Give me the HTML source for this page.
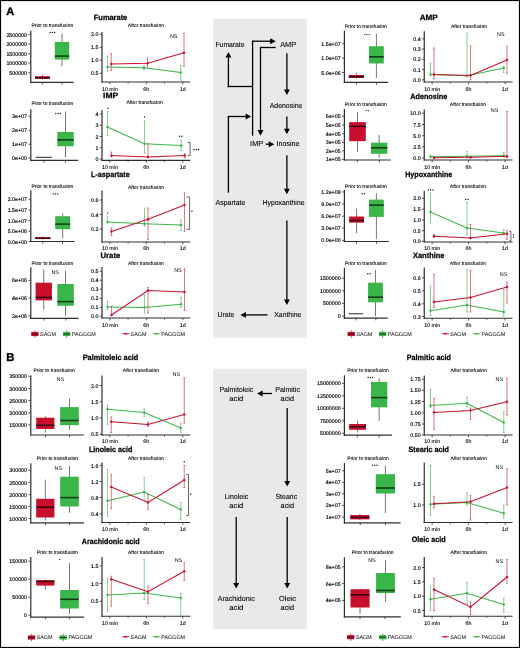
<!DOCTYPE html><html><head><meta charset="utf-8"><style>html,body{margin:0;padding:0;background:#fff;}svg{display:block;will-change:transform;text-rendering:geometricPrecision;}</style></head><body>
<svg width="520" height="648" viewBox="0 0 520 648" font-family="'Liberation Sans', sans-serif">
<rect x="0" y="0" width="520" height="648" fill="#fff"/>
<rect x="213.2" y="18.9" width="93.7" height="318.9" fill="#e9e9e9"/>
<rect x="213.2" y="368.8" width="93.7" height="260.2" fill="#e9e9e9"/>
<text x="10.2" y="14.75" font-size="11" text-anchor="middle" font-weight="bold" fill="#000" stroke="#000" stroke-width="0.35">A</text>
<text x="10.45" y="360.65" font-size="11.3" text-anchor="middle" font-weight="bold" fill="#000" stroke="#000" stroke-width="0.35">B</text>
<text x="52.35" y="26.75" font-size="5" text-anchor="middle" font-weight="normal" fill="#000" stroke="#000" stroke-width="0.08" textLength="41.65" lengthAdjust="spacingAndGlyphs">Prior to transfusion</text>
<line x1="30.8" y1="30.8" x2="30.8" y2="82.9" stroke="#2e2e2e" stroke-width="1.2"/>
<line x1="30.2" y1="82.3" x2="73.6" y2="82.3" stroke="#2e2e2e" stroke-width="1.2"/>
<line x1="28.4" y1="34.6" x2="30.8" y2="34.6" stroke="#2e2e2e" stroke-width="0.8"/>
<text x="27" y="36.6" font-size="5.3" text-anchor="end" font-weight="normal" fill="#000" stroke="#000" stroke-width="0.15">2500000</text>
<line x1="28.4" y1="44" x2="30.8" y2="44" stroke="#2e2e2e" stroke-width="0.8"/>
<text x="27" y="46" font-size="5.3" text-anchor="end" font-weight="normal" fill="#000" stroke="#000" stroke-width="0.15">2000000</text>
<line x1="28.4" y1="53.7" x2="30.8" y2="53.7" stroke="#2e2e2e" stroke-width="0.8"/>
<text x="27" y="55.7" font-size="5.3" text-anchor="end" font-weight="normal" fill="#000" stroke="#000" stroke-width="0.15">1500000</text>
<line x1="28.4" y1="63" x2="30.8" y2="63" stroke="#2e2e2e" stroke-width="0.8"/>
<text x="27" y="65" font-size="5.3" text-anchor="end" font-weight="normal" fill="#000" stroke="#000" stroke-width="0.15">1000000</text>
<line x1="28.4" y1="72.7" x2="30.8" y2="72.7" stroke="#2e2e2e" stroke-width="0.8"/>
<text x="27" y="74.71" font-size="5.3" text-anchor="end" font-weight="normal" fill="#000" stroke="#000" stroke-width="0.15">500000</text>
<line x1="42.3" y1="82.3" x2="42.3" y2="84.6" stroke="#2e2e2e" stroke-width="0.8"/>
<line x1="62" y1="82.3" x2="62" y2="84.6" stroke="#2e2e2e" stroke-width="0.8"/>
<line x1="42.5" y1="74.8" x2="42.5" y2="79.6" stroke="#4a4a4a" stroke-width="0.75"/>
<rect x="35" y="76.2" width="15" height="2.6" fill="#c8102e"/>
<line x1="35" y1="77.8" x2="50" y2="77.8" stroke="#3a0610" stroke-width="1.55"/>
<line x1="62" y1="33.7" x2="62" y2="66.3" stroke="#4a4a4a" stroke-width="0.75"/>
<rect x="54.8" y="41.9" width="14.4" height="17.7" fill="#3ab54a"/>
<line x1="54.8" y1="56.1" x2="69.2" y2="56.1" stroke="#103c15" stroke-width="1.55"/>
<circle cx="50.15" cy="32.4" r="0.68" fill="#111"/>
<circle cx="52.4" cy="32.4" r="0.68" fill="#111"/>
<circle cx="54.65" cy="32.4" r="0.68" fill="#111"/>
<text x="52.35" y="104.85" font-size="5" text-anchor="middle" font-weight="normal" fill="#000" stroke="#000" stroke-width="0.08" textLength="41.65" lengthAdjust="spacingAndGlyphs">Prior to transfusion</text>
<line x1="30.8" y1="109.2" x2="30.8" y2="161" stroke="#2e2e2e" stroke-width="1.2"/>
<line x1="30.2" y1="160.4" x2="78.3" y2="160.4" stroke="#2e2e2e" stroke-width="1.2"/>
<line x1="28.4" y1="116.2" x2="30.8" y2="116.2" stroke="#2e2e2e" stroke-width="0.8"/>
<text x="27" y="118.21" font-size="5.3" text-anchor="end" font-weight="normal" fill="#000" stroke="#000" stroke-width="0.15">3e+07</text>
<line x1="28.4" y1="130.4" x2="30.8" y2="130.4" stroke="#2e2e2e" stroke-width="0.8"/>
<text x="27" y="132.41" font-size="5.3" text-anchor="end" font-weight="normal" fill="#000" stroke="#000" stroke-width="0.15">2e+07</text>
<line x1="28.4" y1="144.2" x2="30.8" y2="144.2" stroke="#2e2e2e" stroke-width="0.8"/>
<text x="27" y="146.2" font-size="5.3" text-anchor="end" font-weight="normal" fill="#000" stroke="#000" stroke-width="0.15">1e+07</text>
<line x1="28.4" y1="158.1" x2="30.8" y2="158.1" stroke="#2e2e2e" stroke-width="0.8"/>
<text x="27" y="160.1" font-size="5.3" text-anchor="end" font-weight="normal" fill="#000" stroke="#000" stroke-width="0.15">0e+00</text>
<line x1="43.8" y1="160.4" x2="43.8" y2="162.7" stroke="#2e2e2e" stroke-width="0.8"/>
<line x1="65.4" y1="160.4" x2="65.4" y2="162.7" stroke="#2e2e2e" stroke-width="0.8"/>
<line x1="43.75" y1="157.3" x2="43.75" y2="157.3" stroke="#4a4a4a" stroke-width="0.75"/>
<line x1="35.6" y1="157.3" x2="51.9" y2="157.3" stroke="#2a2a2a" stroke-width="1"/>
<line x1="65.5" y1="111.5" x2="65.5" y2="157.3" stroke="#4a4a4a" stroke-width="0.75"/>
<rect x="57.3" y="131.9" width="16.4" height="14.4" fill="#3ab54a"/>
<line x1="57.3" y1="139.9" x2="73.7" y2="139.9" stroke="#103c15" stroke-width="1.55"/>
<circle cx="55.75" cy="113.5" r="0.68" fill="#111"/>
<circle cx="58" cy="113.5" r="0.68" fill="#111"/>
<circle cx="60.25" cy="113.5" r="0.68" fill="#111"/>
<text x="52.4" y="188.45" font-size="5" text-anchor="middle" font-weight="normal" fill="#000" stroke="#000" stroke-width="0.08" textLength="41.75" lengthAdjust="spacingAndGlyphs">Prior to transfusion</text>
<line x1="30.8" y1="190.2" x2="30.8" y2="242.1" stroke="#2e2e2e" stroke-width="1.2"/>
<line x1="30.2" y1="241.5" x2="74.6" y2="241.5" stroke="#2e2e2e" stroke-width="1.2"/>
<line x1="28.4" y1="199.2" x2="30.8" y2="199.2" stroke="#2e2e2e" stroke-width="0.8"/>
<text x="27" y="201.2" font-size="5.3" text-anchor="end" font-weight="normal" fill="#000" stroke="#000" stroke-width="0.15">2.0e+07</text>
<line x1="28.4" y1="210" x2="30.8" y2="210" stroke="#2e2e2e" stroke-width="0.8"/>
<text x="27" y="212" font-size="5.3" text-anchor="end" font-weight="normal" fill="#000" stroke="#000" stroke-width="0.15">1.5e+07</text>
<line x1="28.4" y1="220.6" x2="30.8" y2="220.6" stroke="#2e2e2e" stroke-width="0.8"/>
<text x="27" y="222.6" font-size="5.3" text-anchor="end" font-weight="normal" fill="#000" stroke="#000" stroke-width="0.15">1.0e+07</text>
<line x1="28.4" y1="231.2" x2="30.8" y2="231.2" stroke="#2e2e2e" stroke-width="0.8"/>
<text x="27" y="233.2" font-size="5.3" text-anchor="end" font-weight="normal" fill="#000" stroke="#000" stroke-width="0.15">5.0e+06</text>
<line x1="28.4" y1="241.5" x2="30.8" y2="241.5" stroke="#2e2e2e" stroke-width="0.8"/>
<text x="27" y="243.5" font-size="5.3" text-anchor="end" font-weight="normal" fill="#000" stroke="#000" stroke-width="0.15">0.0e+00</text>
<line x1="42.7" y1="241.5" x2="42.7" y2="243.8" stroke="#2e2e2e" stroke-width="0.8"/>
<line x1="62.5" y1="241.5" x2="62.5" y2="243.8" stroke="#2e2e2e" stroke-width="0.8"/>
<line x1="42.8" y1="236.2" x2="42.8" y2="239.4" stroke="#4a4a4a" stroke-width="0.75"/>
<rect x="35.2" y="237.1" width="15.2" height="1.7" fill="#c8102e"/>
<line x1="35.2" y1="238.3" x2="50.4" y2="238.3" stroke="#3a0610" stroke-width="1.55"/>
<line x1="62.7" y1="213.3" x2="62.7" y2="238.3" stroke="#4a4a4a" stroke-width="0.75"/>
<rect x="55.2" y="216.2" width="15" height="13" fill="#3ab54a"/>
<line x1="55.2" y1="224.1" x2="70.2" y2="224.1" stroke="#103c15" stroke-width="1.55"/>
<circle cx="53.25" cy="194" r="0.68" fill="#111"/>
<circle cx="55.5" cy="194" r="0.68" fill="#111"/>
<circle cx="57.75" cy="194" r="0.68" fill="#111"/>
<text x="52.4" y="265.25" font-size="5" text-anchor="middle" font-weight="normal" fill="#000" stroke="#000" stroke-width="0.08" textLength="41.75" lengthAdjust="spacingAndGlyphs">Prior to transfusion</text>
<line x1="30.8" y1="267.3" x2="30.8" y2="318.9" stroke="#2e2e2e" stroke-width="1.2"/>
<line x1="30.2" y1="318.3" x2="78.5" y2="318.3" stroke="#2e2e2e" stroke-width="1.2"/>
<line x1="28.4" y1="280.4" x2="30.8" y2="280.4" stroke="#2e2e2e" stroke-width="0.8"/>
<text x="27" y="282.4" font-size="5.3" text-anchor="end" font-weight="normal" fill="#000" stroke="#000" stroke-width="0.15">6e+06</text>
<line x1="28.4" y1="298.1" x2="30.8" y2="298.1" stroke="#2e2e2e" stroke-width="0.8"/>
<text x="27" y="300.11" font-size="5.3" text-anchor="end" font-weight="normal" fill="#000" stroke="#000" stroke-width="0.15">4e+06</text>
<line x1="28.4" y1="315.8" x2="30.8" y2="315.8" stroke="#2e2e2e" stroke-width="0.8"/>
<text x="27" y="317.81" font-size="5.3" text-anchor="end" font-weight="normal" fill="#000" stroke="#000" stroke-width="0.15">2e+06</text>
<line x1="43.8" y1="318.3" x2="43.8" y2="320.6" stroke="#2e2e2e" stroke-width="0.8"/>
<line x1="65.8" y1="318.3" x2="65.8" y2="320.6" stroke="#2e2e2e" stroke-width="0.8"/>
<line x1="43.75" y1="269.2" x2="43.75" y2="309.6" stroke="#4a4a4a" stroke-width="0.75"/>
<rect x="35.6" y="282.7" width="16.3" height="17.7" fill="#c8102e"/>
<line x1="35.6" y1="297.4" x2="51.9" y2="297.4" stroke="#3a0610" stroke-width="1.55"/>
<line x1="65.55" y1="270.8" x2="65.55" y2="315.8" stroke="#4a4a4a" stroke-width="0.75"/>
<rect x="57.3" y="284" width="16.5" height="21.8" fill="#3ab54a"/>
<line x1="57.3" y1="301.6" x2="73.8" y2="301.6" stroke="#103c15" stroke-width="1.55"/>
<text x="55.2" y="274.39" font-size="5.4" text-anchor="middle" font-weight="normal" fill="#000">NS</text>
<line x1="34.9" y1="330.2" x2="34.9" y2="337.8" stroke="#555" stroke-width="0.7"/>
<rect x="31.3" y="331.9" width="7.2" height="4.2" fill="#c8102e"/>
<line x1="31.3" y1="334" x2="38.5" y2="334" stroke="#4a0812" stroke-width="1.1"/>
<text x="48" y="335.86" font-size="5.3" text-anchor="middle" font-weight="normal" fill="#222" stroke="#222" stroke-width="0.06" textLength="15.77" lengthAdjust="spacingAndGlyphs">SAGM</text>
<line x1="66.7" y1="330.2" x2="66.7" y2="337.8" stroke="#555" stroke-width="0.7"/>
<rect x="63.1" y="331.9" width="7.2" height="4.2" fill="#3ab54a"/>
<line x1="63.1" y1="334" x2="70.3" y2="334" stroke="#164a1c" stroke-width="1.1"/>
<text x="83.9" y="335.86" font-size="5.3" text-anchor="middle" font-weight="normal" fill="#222" stroke="#222" stroke-width="0.06" textLength="23.97" lengthAdjust="spacingAndGlyphs">PAGGGM</text>
<text x="110.55" y="19.53" font-size="7.8" text-anchor="middle" font-weight="bold" fill="#000" stroke="#000" stroke-width="0.25" textLength="33.45" lengthAdjust="spacingAndGlyphs">Fumarate</text>
<text x="145.88" y="26.65" font-size="5" text-anchor="middle" font-weight="normal" fill="#000" stroke="#000" stroke-width="0.08" textLength="36.1" lengthAdjust="spacingAndGlyphs">After transfusion</text>
<line x1="102" y1="32" x2="102" y2="82.6" stroke="#2e2e2e" stroke-width="1.2"/>
<line x1="101.4" y1="82" x2="190.3" y2="82" stroke="#2e2e2e" stroke-width="1.2"/>
<line x1="99.6" y1="34.25" x2="102" y2="34.25" stroke="#2e2e2e" stroke-width="0.8"/>
<text x="98.4" y="36.25" font-size="5.3" text-anchor="end" font-weight="normal" fill="#000" stroke="#000" stroke-width="0.15">2.0</text>
<line x1="99.6" y1="47.25" x2="102" y2="47.25" stroke="#2e2e2e" stroke-width="0.8"/>
<text x="98.4" y="49.25" font-size="5.3" text-anchor="end" font-weight="normal" fill="#000" stroke="#000" stroke-width="0.15">1.5</text>
<line x1="99.6" y1="60.25" x2="102" y2="60.25" stroke="#2e2e2e" stroke-width="0.8"/>
<text x="98.4" y="62.25" font-size="5.3" text-anchor="end" font-weight="normal" fill="#000" stroke="#000" stroke-width="0.15">1.0</text>
<line x1="99.6" y1="73.25" x2="102" y2="73.25" stroke="#2e2e2e" stroke-width="0.8"/>
<text x="98.4" y="75.26" font-size="5.3" text-anchor="end" font-weight="normal" fill="#000" stroke="#000" stroke-width="0.15">0.5</text>
<line x1="109.9" y1="82" x2="109.9" y2="84.3" stroke="#2e2e2e" stroke-width="0.8"/>
<line x1="146.3" y1="82" x2="146.3" y2="84.3" stroke="#2e2e2e" stroke-width="0.8"/>
<line x1="182.8" y1="82" x2="182.8" y2="84.3" stroke="#2e2e2e" stroke-width="0.8"/>
<line x1="128.1" y1="82" x2="128.1" y2="83.7" stroke="#2e2e2e" stroke-width="0.7"/>
<line x1="164.5" y1="82" x2="164.5" y2="83.7" stroke="#2e2e2e" stroke-width="0.7"/>
<text x="109.9" y="90.81" font-size="5.3" text-anchor="middle" font-weight="normal" fill="#000" stroke="#000" stroke-width="0.1">10 min</text>
<text x="146.3" y="90.81" font-size="5.3" text-anchor="middle" font-weight="normal" fill="#000" stroke="#000" stroke-width="0.1">6h</text>
<text x="182.8" y="90.81" font-size="5.3" text-anchor="middle" font-weight="normal" fill="#000" stroke="#000" stroke-width="0.1">1d</text>
<line x1="107.5" y1="56.25" x2="107.5" y2="71.25" stroke="#62c26d" stroke-width="0.75"/>
<line x1="106.6" y1="56.25" x2="108.4" y2="56.25" stroke="#62c26d" stroke-width="0.75"/>
<line x1="106.6" y1="71.25" x2="108.4" y2="71.25" stroke="#62c26d" stroke-width="0.75"/>
<line x1="144" y1="66" x2="144" y2="69.5" stroke="#62c26d" stroke-width="0.75"/>
<line x1="143.1" y1="66" x2="144.9" y2="66" stroke="#62c26d" stroke-width="0.75"/>
<line x1="143.1" y1="69.5" x2="144.9" y2="69.5" stroke="#62c26d" stroke-width="0.75"/>
<line x1="180.75" y1="65.5" x2="180.75" y2="80" stroke="#62c26d" stroke-width="0.75"/>
<line x1="179.85" y1="65.5" x2="181.65" y2="65.5" stroke="#62c26d" stroke-width="0.75"/>
<line x1="179.85" y1="80" x2="181.65" y2="80" stroke="#62c26d" stroke-width="0.75"/>
<path d="M107.5 67 L144 67.75 L180.75 72.5" fill="none" stroke="#3ab54a" stroke-width="1.05"/>
<circle cx="107.5" cy="67" r="1.2" fill="#3ab54a"/>
<circle cx="144" cy="67.75" r="1.2" fill="#3ab54a"/>
<circle cx="180.75" cy="72.5" r="1.2" fill="#3ab54a"/>
<line x1="111.25" y1="53.75" x2="111.25" y2="70.5" stroke="#d4445f" stroke-width="0.75"/>
<line x1="110.35" y1="53.75" x2="112.15" y2="53.75" stroke="#d4445f" stroke-width="0.75"/>
<line x1="110.35" y1="70.5" x2="112.15" y2="70.5" stroke="#d4445f" stroke-width="0.75"/>
<line x1="147.5" y1="58" x2="147.5" y2="67" stroke="#d4445f" stroke-width="0.75"/>
<line x1="146.6" y1="58" x2="148.4" y2="58" stroke="#d4445f" stroke-width="0.75"/>
<line x1="146.6" y1="67" x2="148.4" y2="67" stroke="#d4445f" stroke-width="0.75"/>
<line x1="184" y1="33.25" x2="184" y2="66.25" stroke="#d4445f" stroke-width="0.75"/>
<line x1="183.1" y1="33.25" x2="184.9" y2="33.25" stroke="#d4445f" stroke-width="0.75"/>
<line x1="183.1" y1="66.25" x2="184.9" y2="66.25" stroke="#d4445f" stroke-width="0.75"/>
<path d="M111.25 64 L147.5 63.25 L184 52.75" fill="none" stroke="#c8102e" stroke-width="1.05"/>
<circle cx="111.25" cy="64" r="1.2" fill="#c8102e"/>
<circle cx="147.5" cy="63.25" r="1.2" fill="#c8102e"/>
<circle cx="184" cy="52.75" r="1.2" fill="#c8102e"/>
<text x="173.7" y="37.69" font-size="5.4" text-anchor="middle" font-weight="normal" fill="#000">NS</text>
<text x="110.6" y="98.23" font-size="7.8" text-anchor="middle" font-weight="bold" fill="#000" stroke="#000" stroke-width="0.25" textLength="15.15" lengthAdjust="spacingAndGlyphs">IMP</text>
<text x="144.62" y="104.15" font-size="5" text-anchor="middle" font-weight="normal" fill="#000" stroke="#000" stroke-width="0.08" textLength="36.1" lengthAdjust="spacingAndGlyphs">After transfusion</text>
<line x1="102" y1="110" x2="102" y2="160.9" stroke="#2e2e2e" stroke-width="1.2"/>
<line x1="101.4" y1="160.3" x2="190.3" y2="160.3" stroke="#2e2e2e" stroke-width="1.2"/>
<line x1="99.6" y1="114" x2="102" y2="114" stroke="#2e2e2e" stroke-width="0.8"/>
<text x="98.4" y="116.01" font-size="5.3" text-anchor="end" font-weight="normal" fill="#000" stroke="#000" stroke-width="0.15">4</text>
<line x1="99.6" y1="125.25" x2="102" y2="125.25" stroke="#2e2e2e" stroke-width="0.8"/>
<text x="98.4" y="127.26" font-size="5.3" text-anchor="end" font-weight="normal" fill="#000" stroke="#000" stroke-width="0.15">3</text>
<line x1="99.6" y1="136.5" x2="102" y2="136.5" stroke="#2e2e2e" stroke-width="0.8"/>
<text x="98.4" y="138.5" font-size="5.3" text-anchor="end" font-weight="normal" fill="#000" stroke="#000" stroke-width="0.15">2</text>
<line x1="99.6" y1="147.75" x2="102" y2="147.75" stroke="#2e2e2e" stroke-width="0.8"/>
<text x="98.4" y="149.75" font-size="5.3" text-anchor="end" font-weight="normal" fill="#000" stroke="#000" stroke-width="0.15">1</text>
<line x1="99.6" y1="159" x2="102" y2="159" stroke="#2e2e2e" stroke-width="0.8"/>
<text x="98.4" y="161" font-size="5.3" text-anchor="end" font-weight="normal" fill="#000" stroke="#000" stroke-width="0.15">0</text>
<line x1="109.9" y1="160.3" x2="109.9" y2="162.6" stroke="#2e2e2e" stroke-width="0.8"/>
<line x1="146.3" y1="160.3" x2="146.3" y2="162.6" stroke="#2e2e2e" stroke-width="0.8"/>
<line x1="182.8" y1="160.3" x2="182.8" y2="162.6" stroke="#2e2e2e" stroke-width="0.8"/>
<line x1="128.1" y1="160.3" x2="128.1" y2="162" stroke="#2e2e2e" stroke-width="0.7"/>
<line x1="164.5" y1="160.3" x2="164.5" y2="162" stroke="#2e2e2e" stroke-width="0.7"/>
<text x="109.9" y="168.8" font-size="5.3" text-anchor="middle" font-weight="normal" fill="#000" stroke="#000" stroke-width="0.1">10 min</text>
<text x="146.3" y="168.8" font-size="5.3" text-anchor="middle" font-weight="normal" fill="#000" stroke="#000" stroke-width="0.1">6h</text>
<text x="182.8" y="168.8" font-size="5.3" text-anchor="middle" font-weight="normal" fill="#000" stroke="#000" stroke-width="0.1">1d</text>
<line x1="107.5" y1="111.25" x2="107.5" y2="135.5" stroke="#62c26d" stroke-width="0.75"/>
<line x1="106.6" y1="111.25" x2="108.4" y2="111.25" stroke="#62c26d" stroke-width="0.75"/>
<line x1="106.6" y1="135.5" x2="108.4" y2="135.5" stroke="#62c26d" stroke-width="0.75"/>
<line x1="144.5" y1="120.5" x2="144.5" y2="153" stroke="#62c26d" stroke-width="0.75"/>
<line x1="143.6" y1="120.5" x2="145.4" y2="120.5" stroke="#62c26d" stroke-width="0.75"/>
<line x1="143.6" y1="153" x2="145.4" y2="153" stroke="#62c26d" stroke-width="0.75"/>
<line x1="181.25" y1="140" x2="181.25" y2="150.5" stroke="#62c26d" stroke-width="0.75"/>
<line x1="180.35" y1="140" x2="182.15" y2="140" stroke="#62c26d" stroke-width="0.75"/>
<line x1="180.35" y1="150.5" x2="182.15" y2="150.5" stroke="#62c26d" stroke-width="0.75"/>
<path d="M107.5 127 L144.5 143.75 L181.25 145.5" fill="none" stroke="#3ab54a" stroke-width="1.05"/>
<circle cx="107.5" cy="127" r="1.2" fill="#3ab54a"/>
<circle cx="144.5" cy="143.75" r="1.2" fill="#3ab54a"/>
<circle cx="181.25" cy="145.5" r="1.2" fill="#3ab54a"/>
<line x1="111.5" y1="152" x2="111.5" y2="157" stroke="#d4445f" stroke-width="0.75"/>
<line x1="110.6" y1="152" x2="112.4" y2="152" stroke="#d4445f" stroke-width="0.75"/>
<line x1="110.6" y1="157" x2="112.4" y2="157" stroke="#d4445f" stroke-width="0.75"/>
<line x1="148" y1="143.75" x2="148" y2="157.5" stroke="#d4445f" stroke-width="0.75"/>
<line x1="147.1" y1="143.75" x2="148.9" y2="143.75" stroke="#d4445f" stroke-width="0.75"/>
<line x1="147.1" y1="157.5" x2="148.9" y2="157.5" stroke="#d4445f" stroke-width="0.75"/>
<line x1="184.75" y1="153.75" x2="184.75" y2="158" stroke="#d4445f" stroke-width="0.75"/>
<line x1="183.85" y1="153.75" x2="185.65" y2="153.75" stroke="#d4445f" stroke-width="0.75"/>
<line x1="183.85" y1="158" x2="185.65" y2="158" stroke="#d4445f" stroke-width="0.75"/>
<path d="M111.5 155.5 L148 157 L184.75 155.5" fill="none" stroke="#c8102e" stroke-width="1.05"/>
<circle cx="111.5" cy="155.5" r="1.2" fill="#c8102e"/>
<circle cx="148" cy="157" r="1.2" fill="#c8102e"/>
<circle cx="184.75" cy="155.5" r="1.2" fill="#c8102e"/>
<circle cx="108" cy="108.3" r="0.68" fill="#111"/>
<circle cx="144.5" cy="117" r="0.68" fill="#111"/>
<circle cx="179.62" cy="136.3" r="0.68" fill="#111"/>
<circle cx="181.88" cy="136.3" r="0.68" fill="#111"/>
<path d="M187.8 142.4 H190.1 V155.5 H187.8" fill="none" stroke="#4a4a4a" stroke-width="0.85"/>
<circle cx="194.05" cy="149.5" r="0.68" fill="#111"/>
<circle cx="196.3" cy="149.5" r="0.68" fill="#111"/>
<circle cx="198.55" cy="149.5" r="0.68" fill="#111"/>
<text x="110.38" y="176.73" font-size="7.8" text-anchor="middle" font-weight="bold" fill="#000" stroke="#000" stroke-width="0.25" textLength="38.8" lengthAdjust="spacingAndGlyphs">L-aspartate</text>
<text x="146" y="188.65" font-size="5" text-anchor="middle" font-weight="normal" fill="#000" stroke="#000" stroke-width="0.08" textLength="35.85" lengthAdjust="spacingAndGlyphs">After transfusion</text>
<line x1="102" y1="190.5" x2="102" y2="242.6" stroke="#2e2e2e" stroke-width="1.2"/>
<line x1="101.4" y1="242" x2="190.3" y2="242" stroke="#2e2e2e" stroke-width="1.2"/>
<line x1="99.6" y1="200" x2="102" y2="200" stroke="#2e2e2e" stroke-width="0.8"/>
<text x="98.4" y="202" font-size="5.3" text-anchor="end" font-weight="normal" fill="#000" stroke="#000" stroke-width="0.15">0.6</text>
<line x1="99.6" y1="214.5" x2="102" y2="214.5" stroke="#2e2e2e" stroke-width="0.8"/>
<text x="98.4" y="216.5" font-size="5.3" text-anchor="end" font-weight="normal" fill="#000" stroke="#000" stroke-width="0.15">0.4</text>
<line x1="99.6" y1="229" x2="102" y2="229" stroke="#2e2e2e" stroke-width="0.8"/>
<text x="98.4" y="231" font-size="5.3" text-anchor="end" font-weight="normal" fill="#000" stroke="#000" stroke-width="0.15">0.2</text>
<line x1="109.9" y1="242" x2="109.9" y2="244.3" stroke="#2e2e2e" stroke-width="0.8"/>
<line x1="146.3" y1="242" x2="146.3" y2="244.3" stroke="#2e2e2e" stroke-width="0.8"/>
<line x1="182.8" y1="242" x2="182.8" y2="244.3" stroke="#2e2e2e" stroke-width="0.8"/>
<line x1="128.1" y1="242" x2="128.1" y2="243.7" stroke="#2e2e2e" stroke-width="0.7"/>
<line x1="164.5" y1="242" x2="164.5" y2="243.7" stroke="#2e2e2e" stroke-width="0.7"/>
<text x="109.9" y="250.35" font-size="5.3" text-anchor="middle" font-weight="normal" fill="#000" stroke="#000" stroke-width="0.1">10 min</text>
<text x="146.3" y="250.35" font-size="5.3" text-anchor="middle" font-weight="normal" fill="#000" stroke="#000" stroke-width="0.1">6h</text>
<text x="182.8" y="250.35" font-size="5.3" text-anchor="middle" font-weight="normal" fill="#000" stroke="#000" stroke-width="0.1">1d</text>
<line x1="107.5" y1="216.25" x2="107.5" y2="222" stroke="#62c26d" stroke-width="0.75"/>
<line x1="106.6" y1="216.25" x2="108.4" y2="216.25" stroke="#62c26d" stroke-width="0.75"/>
<line x1="106.6" y1="222" x2="108.4" y2="222" stroke="#62c26d" stroke-width="0.75"/>
<line x1="144.5" y1="208" x2="144.5" y2="226.25" stroke="#62c26d" stroke-width="0.75"/>
<line x1="143.6" y1="208" x2="145.4" y2="208" stroke="#62c26d" stroke-width="0.75"/>
<line x1="143.6" y1="226.25" x2="145.4" y2="226.25" stroke="#62c26d" stroke-width="0.75"/>
<line x1="181" y1="220" x2="181" y2="230.5" stroke="#62c26d" stroke-width="0.75"/>
<line x1="180.1" y1="220" x2="181.9" y2="220" stroke="#62c26d" stroke-width="0.75"/>
<line x1="180.1" y1="230.5" x2="181.9" y2="230.5" stroke="#62c26d" stroke-width="0.75"/>
<path d="M107.5 222 L144.5 223.75 L181 225" fill="none" stroke="#3ab54a" stroke-width="1.05"/>
<circle cx="107.5" cy="222" r="1.2" fill="#3ab54a"/>
<circle cx="144.5" cy="223.75" r="1.2" fill="#3ab54a"/>
<circle cx="181" cy="225" r="1.2" fill="#3ab54a"/>
<line x1="111.5" y1="228" x2="111.5" y2="235.5" stroke="#d4445f" stroke-width="0.75"/>
<line x1="110.6" y1="228" x2="112.4" y2="228" stroke="#d4445f" stroke-width="0.75"/>
<line x1="110.6" y1="235.5" x2="112.4" y2="235.5" stroke="#d4445f" stroke-width="0.75"/>
<line x1="148" y1="208" x2="148" y2="239.5" stroke="#d4445f" stroke-width="0.75"/>
<line x1="147.1" y1="208" x2="148.9" y2="208" stroke="#d4445f" stroke-width="0.75"/>
<line x1="147.1" y1="239.5" x2="148.9" y2="239.5" stroke="#d4445f" stroke-width="0.75"/>
<line x1="184.5" y1="192.8" x2="184.5" y2="231.25" stroke="#d4445f" stroke-width="0.75"/>
<line x1="183.6" y1="192.8" x2="185.4" y2="192.8" stroke="#d4445f" stroke-width="0.75"/>
<line x1="183.6" y1="231.25" x2="185.4" y2="231.25" stroke="#d4445f" stroke-width="0.75"/>
<path d="M111.5 231.5 L148 219.25 L184.5 205" fill="none" stroke="#c8102e" stroke-width="1.05"/>
<circle cx="111.5" cy="231.5" r="1.2" fill="#c8102e"/>
<circle cx="148" cy="219.25" r="1.2" fill="#c8102e"/>
<circle cx="184.5" cy="205" r="1.2" fill="#c8102e"/>
<circle cx="107.6" cy="213.1" r="0.68" fill="#111"/>
<path d="M186.4 197 H189.6 V229.3 H186.4" fill="none" stroke="#4a4a4a" stroke-width="0.85"/>
<circle cx="191.9" cy="211.3" r="0.68" fill="#111"/>
<text x="110.38" y="257.73" font-size="7.8" text-anchor="middle" font-weight="bold" fill="#000" stroke="#000" stroke-width="0.25" textLength="19.8" lengthAdjust="spacingAndGlyphs">Urate</text>
<text x="146" y="265.15" font-size="5" text-anchor="middle" font-weight="normal" fill="#000" stroke="#000" stroke-width="0.08" textLength="35.85" lengthAdjust="spacingAndGlyphs">After transfusion</text>
<line x1="102" y1="267" x2="102" y2="318.6" stroke="#2e2e2e" stroke-width="1.2"/>
<line x1="101.4" y1="318" x2="190.3" y2="318" stroke="#2e2e2e" stroke-width="1.2"/>
<line x1="99.6" y1="271.25" x2="102" y2="271.25" stroke="#2e2e2e" stroke-width="0.8"/>
<text x="98.4" y="273.25" font-size="5.3" text-anchor="end" font-weight="normal" fill="#000" stroke="#000" stroke-width="0.15">0.5</text>
<line x1="99.6" y1="280.25" x2="102" y2="280.25" stroke="#2e2e2e" stroke-width="0.8"/>
<text x="98.4" y="282.25" font-size="5.3" text-anchor="end" font-weight="normal" fill="#000" stroke="#000" stroke-width="0.15">0.4</text>
<line x1="99.6" y1="289.25" x2="102" y2="289.25" stroke="#2e2e2e" stroke-width="0.8"/>
<text x="98.4" y="291.25" font-size="5.3" text-anchor="end" font-weight="normal" fill="#000" stroke="#000" stroke-width="0.15">0.3</text>
<line x1="99.6" y1="298.25" x2="102" y2="298.25" stroke="#2e2e2e" stroke-width="0.8"/>
<text x="98.4" y="300.25" font-size="5.3" text-anchor="end" font-weight="normal" fill="#000" stroke="#000" stroke-width="0.15">0.2</text>
<line x1="99.6" y1="307.25" x2="102" y2="307.25" stroke="#2e2e2e" stroke-width="0.8"/>
<text x="98.4" y="309.25" font-size="5.3" text-anchor="end" font-weight="normal" fill="#000" stroke="#000" stroke-width="0.15">0.1</text>
<line x1="99.6" y1="316.25" x2="102" y2="316.25" stroke="#2e2e2e" stroke-width="0.8"/>
<text x="98.4" y="318.25" font-size="5.3" text-anchor="end" font-weight="normal" fill="#000" stroke="#000" stroke-width="0.15">0.0</text>
<line x1="109.9" y1="318" x2="109.9" y2="320.3" stroke="#2e2e2e" stroke-width="0.8"/>
<line x1="146.3" y1="318" x2="146.3" y2="320.3" stroke="#2e2e2e" stroke-width="0.8"/>
<line x1="182.8" y1="318" x2="182.8" y2="320.3" stroke="#2e2e2e" stroke-width="0.8"/>
<line x1="128.1" y1="318" x2="128.1" y2="319.7" stroke="#2e2e2e" stroke-width="0.7"/>
<line x1="164.5" y1="318" x2="164.5" y2="319.7" stroke="#2e2e2e" stroke-width="0.7"/>
<text x="109.9" y="326.56" font-size="5.3" text-anchor="middle" font-weight="normal" fill="#000" stroke="#000" stroke-width="0.1">10 min</text>
<text x="146.3" y="326.56" font-size="5.3" text-anchor="middle" font-weight="normal" fill="#000" stroke="#000" stroke-width="0.1">6h</text>
<text x="182.8" y="326.56" font-size="5.3" text-anchor="middle" font-weight="normal" fill="#000" stroke="#000" stroke-width="0.1">1d</text>
<line x1="107.5" y1="301.25" x2="107.5" y2="309.5" stroke="#62c26d" stroke-width="0.75"/>
<line x1="106.6" y1="301.25" x2="108.4" y2="301.25" stroke="#62c26d" stroke-width="0.75"/>
<line x1="106.6" y1="309.5" x2="108.4" y2="309.5" stroke="#62c26d" stroke-width="0.75"/>
<line x1="144.5" y1="295" x2="144.5" y2="313.75" stroke="#62c26d" stroke-width="0.75"/>
<line x1="143.6" y1="295" x2="145.4" y2="295" stroke="#62c26d" stroke-width="0.75"/>
<line x1="143.6" y1="313.75" x2="145.4" y2="313.75" stroke="#62c26d" stroke-width="0.75"/>
<line x1="181" y1="297.5" x2="181" y2="307.5" stroke="#62c26d" stroke-width="0.75"/>
<line x1="180.1" y1="297.5" x2="181.9" y2="297.5" stroke="#62c26d" stroke-width="0.75"/>
<line x1="180.1" y1="307.5" x2="181.9" y2="307.5" stroke="#62c26d" stroke-width="0.75"/>
<path d="M107.5 307 L144.5 307.5 L181 304.25" fill="none" stroke="#3ab54a" stroke-width="1.05"/>
<circle cx="107.5" cy="307" r="1.2" fill="#3ab54a"/>
<circle cx="144.5" cy="307.5" r="1.2" fill="#3ab54a"/>
<circle cx="181" cy="304.25" r="1.2" fill="#3ab54a"/>
<line x1="111.5" y1="306.25" x2="111.5" y2="315.5" stroke="#d4445f" stroke-width="0.75"/>
<line x1="110.6" y1="306.25" x2="112.4" y2="306.25" stroke="#d4445f" stroke-width="0.75"/>
<line x1="110.6" y1="315.5" x2="112.4" y2="315.5" stroke="#d4445f" stroke-width="0.75"/>
<line x1="148" y1="287.5" x2="148" y2="313" stroke="#d4445f" stroke-width="0.75"/>
<line x1="147.1" y1="287.5" x2="148.9" y2="287.5" stroke="#d4445f" stroke-width="0.75"/>
<line x1="147.1" y1="313" x2="148.9" y2="313" stroke="#d4445f" stroke-width="0.75"/>
<line x1="184.5" y1="268.75" x2="184.5" y2="310.5" stroke="#d4445f" stroke-width="0.75"/>
<line x1="183.6" y1="268.75" x2="185.4" y2="268.75" stroke="#d4445f" stroke-width="0.75"/>
<line x1="183.6" y1="310.5" x2="185.4" y2="310.5" stroke="#d4445f" stroke-width="0.75"/>
<path d="M111.5 315 L148 290.5 L184.5 292" fill="none" stroke="#c8102e" stroke-width="1.05"/>
<circle cx="111.5" cy="315" r="1.2" fill="#c8102e"/>
<circle cx="148" cy="290.5" r="1.2" fill="#c8102e"/>
<circle cx="184.5" cy="292" r="1.2" fill="#c8102e"/>
<text x="177.9" y="272.09" font-size="5.4" text-anchor="middle" font-weight="normal" fill="#000">NS</text>
<line x1="122.2" y1="333.75" x2="129.2" y2="333.75" stroke="#c8102e" stroke-width="1"/>
<circle cx="125.7" cy="333.75" r="1.1" fill="#c8102e"/>
<text x="138.5" y="335.61" font-size="5.3" text-anchor="middle" font-weight="normal" fill="#222" stroke="#222" stroke-width="0.06" textLength="15.77" lengthAdjust="spacingAndGlyphs">SAGM</text>
<line x1="152.9" y1="333.75" x2="159.9" y2="333.75" stroke="#3ab54a" stroke-width="1"/>
<circle cx="156.4" cy="333.75" r="1.1" fill="#3ab54a"/>
<text x="173.2" y="335.61" font-size="5.3" text-anchor="middle" font-weight="normal" fill="#222" stroke="#222" stroke-width="0.06" textLength="23.77" lengthAdjust="spacingAndGlyphs">PAGGGM</text>
<text x="230" y="47.27" font-size="7.35" text-anchor="middle" font-weight="normal" fill="#000" stroke="#000" stroke-width="0.09" textLength="29.04" lengthAdjust="spacingAndGlyphs">Fumarate</text>
<text x="288.2" y="47.27" font-size="7.35" text-anchor="middle" font-weight="normal" fill="#000" stroke="#000" stroke-width="0.09" textLength="16.04" lengthAdjust="spacingAndGlyphs">AMP</text>
<text x="286.05" y="107.97" font-size="7.35" text-anchor="middle" font-weight="normal" fill="#000" stroke="#000" stroke-width="0.09" textLength="32.74" lengthAdjust="spacingAndGlyphs">Adenosine</text>
<text x="256.65" y="146.47" font-size="7.35" text-anchor="middle" font-weight="normal" fill="#000" stroke="#000" stroke-width="0.09" textLength="13.14" lengthAdjust="spacingAndGlyphs">IMP</text>
<text x="288" y="146.47" font-size="7.35" text-anchor="middle" font-weight="normal" fill="#000" stroke="#000" stroke-width="0.09" textLength="22.84" lengthAdjust="spacingAndGlyphs">Inosine</text>
<text x="230.45" y="204.87" font-size="7.35" text-anchor="middle" font-weight="normal" fill="#000" stroke="#000" stroke-width="0.09" textLength="29.94" lengthAdjust="spacingAndGlyphs">Aspartate</text>
<text x="283.55" y="204.87" font-size="7.35" text-anchor="middle" font-weight="normal" fill="#000" stroke="#000" stroke-width="0.09" textLength="41.94" lengthAdjust="spacingAndGlyphs">Hypoxanthine</text>
<text x="287.8" y="317.17" font-size="7.35" text-anchor="middle" font-weight="normal" fill="#000" stroke="#000" stroke-width="0.09" textLength="27.04" lengthAdjust="spacingAndGlyphs">Xanthine</text>
<text x="226" y="317.17" font-size="7.35" text-anchor="middle" font-weight="normal" fill="#000" stroke="#000" stroke-width="0.09" textLength="16.84" lengthAdjust="spacingAndGlyphs">Urate</text>
<line x1="228.4" y1="87.15" x2="228.4" y2="55.26" stroke="#000" stroke-width="1.3"/>
<path d="M225.45 57.5 L231.35 57.5 L228.4 51.9 Z" fill="#000"/>
<line x1="227.75" y1="86.5" x2="252.6" y2="86.5" stroke="#000" stroke-width="1.3"/>
<line x1="252.6" y1="40.55" x2="252.6" y2="135.7" stroke="#000" stroke-width="1.3"/>
<line x1="252.6" y1="41.2" x2="272.44" y2="41.2" stroke="#000" stroke-width="1.3"/>
<path d="M270.2 38.25 L270.2 44.15 L275.8 41.2 Z" fill="#000"/>
<line x1="260.5" y1="46.85" x2="260.5" y2="132.34" stroke="#000" stroke-width="1.3"/>
<path d="M257.55 130.1 L263.45 130.1 L260.5 135.7 Z" fill="#000"/>
<line x1="260.5" y1="47.5" x2="275.8" y2="47.5" stroke="#000" stroke-width="1.3"/>
<line x1="286.9" y1="53.3" x2="286.9" y2="91.74" stroke="#000" stroke-width="1.3"/>
<path d="M283.95 89.5 L289.85 89.5 L286.9 95.1 Z" fill="#000"/>
<line x1="286.9" y1="116.5" x2="286.9" y2="130.94" stroke="#000" stroke-width="1.3"/>
<path d="M283.95 128.7 L289.85 128.7 L286.9 134.3 Z" fill="#000"/>
<line x1="228.4" y1="192.7" x2="228.4" y2="115.85" stroke="#000" stroke-width="1.3"/>
<line x1="228.4" y1="116.5" x2="247.84" y2="116.5" stroke="#000" stroke-width="1.3"/>
<path d="M245.6 113.55 L245.6 119.45 L251.2 116.5 Z" fill="#000"/>
<line x1="265.8" y1="144.2" x2="270.94" y2="144.2" stroke="#000" stroke-width="1.3"/>
<path d="M268.7 141.25 L268.7 147.15 L274.3 144.2 Z" fill="#000"/>
<line x1="286.9" y1="155.3" x2="286.9" y2="190.94" stroke="#000" stroke-width="1.3"/>
<path d="M283.95 188.7 L289.85 188.7 L286.9 194.3 Z" fill="#000"/>
<line x1="286.9" y1="220.4" x2="286.9" y2="301.64" stroke="#000" stroke-width="1.3"/>
<path d="M283.95 299.4 L289.85 299.4 L286.9 305 Z" fill="#000"/>
<line x1="267.6" y1="314.9" x2="243.76" y2="314.9" stroke="#000" stroke-width="1.3"/>
<path d="M246 311.95 L246 317.85 L240.4 314.9 Z" fill="#000"/>
<text x="365.85" y="28.15" font-size="5" text-anchor="middle" font-weight="normal" fill="#000" stroke="#000" stroke-width="0.08" textLength="42.05" lengthAdjust="spacingAndGlyphs">Prior to transfusion</text>
<line x1="344.4" y1="30.8" x2="344.4" y2="82.9" stroke="#2e2e2e" stroke-width="1.2"/>
<line x1="343.8" y1="82.3" x2="388.1" y2="82.3" stroke="#2e2e2e" stroke-width="1.2"/>
<line x1="342" y1="43.8" x2="344.4" y2="43.8" stroke="#2e2e2e" stroke-width="0.8"/>
<text x="340.6" y="45.8" font-size="5.3" text-anchor="end" font-weight="normal" fill="#000" stroke="#000" stroke-width="0.15">1.5e+07</text>
<line x1="342" y1="58.1" x2="344.4" y2="58.1" stroke="#2e2e2e" stroke-width="0.8"/>
<text x="340.6" y="60.1" font-size="5.3" text-anchor="end" font-weight="normal" fill="#000" stroke="#000" stroke-width="0.15">1.0e+07</text>
<line x1="342" y1="72.5" x2="344.4" y2="72.5" stroke="#2e2e2e" stroke-width="0.8"/>
<text x="340.6" y="74.51" font-size="5.3" text-anchor="end" font-weight="normal" fill="#000" stroke="#000" stroke-width="0.15">5.0e+06</text>
<line x1="356.5" y1="82.3" x2="356.5" y2="84.6" stroke="#2e2e2e" stroke-width="0.8"/>
<line x1="376.5" y1="82.3" x2="376.5" y2="84.6" stroke="#2e2e2e" stroke-width="0.8"/>
<line x1="356.4" y1="72.7" x2="356.4" y2="78.8" stroke="#4a4a4a" stroke-width="0.75"/>
<rect x="348.8" y="75" width="15.2" height="2.9" fill="#c8102e"/>
<line x1="348.8" y1="76.8" x2="364" y2="76.8" stroke="#3a0610" stroke-width="1.55"/>
<line x1="376.4" y1="33.7" x2="376.4" y2="77.9" stroke="#4a4a4a" stroke-width="0.75"/>
<rect x="369" y="46.2" width="14.8" height="17.3" fill="#3ab54a"/>
<line x1="369" y1="56.8" x2="383.8" y2="56.8" stroke="#103c15" stroke-width="1.55"/>
<circle cx="364.75" cy="34.6" r="0.68" fill="#111"/>
<circle cx="367" cy="34.6" r="0.68" fill="#111"/>
<circle cx="369.25" cy="34.6" r="0.68" fill="#111"/>
<text x="365.85" y="106.35" font-size="5" text-anchor="middle" font-weight="normal" fill="#000" stroke="#000" stroke-width="0.08" textLength="42.05" lengthAdjust="spacingAndGlyphs">Prior to transfusion</text>
<line x1="344.4" y1="109" x2="344.4" y2="160.6" stroke="#2e2e2e" stroke-width="1.2"/>
<line x1="343.8" y1="160" x2="390.6" y2="160" stroke="#2e2e2e" stroke-width="1.2"/>
<line x1="342" y1="116.2" x2="344.4" y2="116.2" stroke="#2e2e2e" stroke-width="0.8"/>
<text x="340.6" y="118.21" font-size="5.3" text-anchor="end" font-weight="normal" fill="#000" stroke="#000" stroke-width="0.15">6e+05</text>
<line x1="342" y1="125" x2="344.4" y2="125" stroke="#2e2e2e" stroke-width="0.8"/>
<text x="340.6" y="127.01" font-size="5.3" text-anchor="end" font-weight="normal" fill="#000" stroke="#000" stroke-width="0.15">5e+05</text>
<line x1="342" y1="133.7" x2="344.4" y2="133.7" stroke="#2e2e2e" stroke-width="0.8"/>
<text x="340.6" y="135.7" font-size="5.3" text-anchor="end" font-weight="normal" fill="#000" stroke="#000" stroke-width="0.15">4e+05</text>
<line x1="342" y1="142.3" x2="344.4" y2="142.3" stroke="#2e2e2e" stroke-width="0.8"/>
<text x="340.6" y="144.31" font-size="5.3" text-anchor="end" font-weight="normal" fill="#000" stroke="#000" stroke-width="0.15">3e+05</text>
<line x1="342" y1="150.8" x2="344.4" y2="150.8" stroke="#2e2e2e" stroke-width="0.8"/>
<text x="340.6" y="152.81" font-size="5.3" text-anchor="end" font-weight="normal" fill="#000" stroke="#000" stroke-width="0.15">2e+05</text>
<line x1="342" y1="159.4" x2="344.4" y2="159.4" stroke="#2e2e2e" stroke-width="0.8"/>
<text x="340.6" y="161.41" font-size="5.3" text-anchor="end" font-weight="normal" fill="#000" stroke="#000" stroke-width="0.15">1e+05</text>
<line x1="357.3" y1="160" x2="357.3" y2="162.3" stroke="#2e2e2e" stroke-width="0.8"/>
<line x1="379.4" y1="160" x2="379.4" y2="162.3" stroke="#2e2e2e" stroke-width="0.8"/>
<line x1="357.5" y1="111.9" x2="357.5" y2="151.9" stroke="#4a4a4a" stroke-width="0.75"/>
<rect x="349.2" y="122.1" width="16.6" height="19.1" fill="#c8102e"/>
<line x1="349.2" y1="126.3" x2="365.8" y2="126.3" stroke="#3a0610" stroke-width="1.55"/>
<line x1="379.15" y1="135" x2="379.15" y2="157.7" stroke="#4a4a4a" stroke-width="0.75"/>
<rect x="371" y="142.7" width="16.3" height="11.1" fill="#3ab54a"/>
<line x1="371" y1="147.8" x2="387.3" y2="147.8" stroke="#103c15" stroke-width="1.55"/>
<circle cx="365.98" cy="110.6" r="0.68" fill="#111"/>
<circle cx="368.23" cy="110.6" r="0.68" fill="#111"/>
<text x="365.85" y="187.55" font-size="5" text-anchor="middle" font-weight="normal" fill="#000" stroke="#000" stroke-width="0.08" textLength="42.05" lengthAdjust="spacingAndGlyphs">Prior to transfusion</text>
<line x1="344.4" y1="190" x2="344.4" y2="242.1" stroke="#2e2e2e" stroke-width="1.2"/>
<line x1="343.8" y1="241.5" x2="388.7" y2="241.5" stroke="#2e2e2e" stroke-width="1.2"/>
<line x1="342" y1="191.9" x2="344.4" y2="191.9" stroke="#2e2e2e" stroke-width="0.8"/>
<text x="340.6" y="193.91" font-size="5.3" text-anchor="end" font-weight="normal" fill="#000" stroke="#000" stroke-width="0.15">1.2e+08</text>
<line x1="342" y1="204" x2="344.4" y2="204" stroke="#2e2e2e" stroke-width="0.8"/>
<text x="340.6" y="206" font-size="5.3" text-anchor="end" font-weight="normal" fill="#000" stroke="#000" stroke-width="0.15">9.0e+07</text>
<line x1="342" y1="216.2" x2="344.4" y2="216.2" stroke="#2e2e2e" stroke-width="0.8"/>
<text x="340.6" y="218.2" font-size="5.3" text-anchor="end" font-weight="normal" fill="#000" stroke="#000" stroke-width="0.15">6.0e+07</text>
<line x1="342" y1="228.1" x2="344.4" y2="228.1" stroke="#2e2e2e" stroke-width="0.8"/>
<text x="340.6" y="230.1" font-size="5.3" text-anchor="end" font-weight="normal" fill="#000" stroke="#000" stroke-width="0.15">3.0e+07</text>
<line x1="342" y1="240.4" x2="344.4" y2="240.4" stroke="#2e2e2e" stroke-width="0.8"/>
<text x="340.6" y="242.41" font-size="5.3" text-anchor="end" font-weight="normal" fill="#000" stroke="#000" stroke-width="0.15">0.0e+00</text>
<line x1="356.5" y1="241.5" x2="356.5" y2="243.8" stroke="#2e2e2e" stroke-width="0.8"/>
<line x1="376.5" y1="241.5" x2="376.5" y2="243.8" stroke="#2e2e2e" stroke-width="0.8"/>
<line x1="356.6" y1="208.7" x2="356.6" y2="233.3" stroke="#4a4a4a" stroke-width="0.75"/>
<rect x="349.2" y="216.5" width="14.8" height="6.2" fill="#c8102e"/>
<line x1="349.2" y1="220.5" x2="364" y2="220.5" stroke="#3a0610" stroke-width="1.55"/>
<line x1="376.4" y1="193.3" x2="376.4" y2="239" stroke="#4a4a4a" stroke-width="0.75"/>
<rect x="369" y="199.6" width="14.8" height="17.3" fill="#3ab54a"/>
<line x1="369" y1="205.1" x2="383.8" y2="205.1" stroke="#103c15" stroke-width="1.55"/>
<circle cx="362.07" cy="193.8" r="0.68" fill="#111"/>
<circle cx="364.32" cy="193.8" r="0.68" fill="#111"/>
<text x="365.85" y="264.85" font-size="5" text-anchor="middle" font-weight="normal" fill="#000" stroke="#000" stroke-width="0.08" textLength="42.05" lengthAdjust="spacingAndGlyphs">Prior to transfusion</text>
<line x1="344.4" y1="267.7" x2="344.4" y2="318.7" stroke="#2e2e2e" stroke-width="1.2"/>
<line x1="343.8" y1="318.1" x2="387.7" y2="318.1" stroke="#2e2e2e" stroke-width="1.2"/>
<line x1="342" y1="278.3" x2="344.4" y2="278.3" stroke="#2e2e2e" stroke-width="0.8"/>
<text x="340.6" y="280.31" font-size="5.3" text-anchor="end" font-weight="normal" fill="#000" stroke="#000" stroke-width="0.15">1500000</text>
<line x1="342" y1="290.8" x2="344.4" y2="290.8" stroke="#2e2e2e" stroke-width="0.8"/>
<text x="340.6" y="292.81" font-size="5.3" text-anchor="end" font-weight="normal" fill="#000" stroke="#000" stroke-width="0.15">1000000</text>
<line x1="342" y1="303.3" x2="344.4" y2="303.3" stroke="#2e2e2e" stroke-width="0.8"/>
<text x="340.6" y="305.31" font-size="5.3" text-anchor="end" font-weight="normal" fill="#000" stroke="#000" stroke-width="0.15">500000</text>
<line x1="342" y1="316.2" x2="344.4" y2="316.2" stroke="#2e2e2e" stroke-width="0.8"/>
<text x="340.6" y="318.2" font-size="5.3" text-anchor="end" font-weight="normal" fill="#000" stroke="#000" stroke-width="0.15">0</text>
<line x1="356" y1="318.1" x2="356" y2="320.4" stroke="#2e2e2e" stroke-width="0.8"/>
<line x1="375.8" y1="318.1" x2="375.8" y2="320.4" stroke="#2e2e2e" stroke-width="0.8"/>
<line x1="355.95" y1="313.3" x2="355.95" y2="314.2" stroke="#4a4a4a" stroke-width="0.75"/>
<line x1="348.8" y1="313.8" x2="363.1" y2="313.8" stroke="#2a2a2a" stroke-width="1"/>
<line x1="375.5" y1="270" x2="375.5" y2="316.2" stroke="#4a4a4a" stroke-width="0.75"/>
<rect x="368.1" y="282.7" width="14.8" height="19.6" fill="#3ab54a"/>
<line x1="368.1" y1="297.2" x2="382.9" y2="297.2" stroke="#103c15" stroke-width="1.55"/>
<circle cx="367.77" cy="273.8" r="0.68" fill="#111"/>
<circle cx="370.02" cy="273.8" r="0.68" fill="#111"/>
<line x1="351.3" y1="330.2" x2="351.3" y2="337.8" stroke="#555" stroke-width="0.7"/>
<rect x="347.7" y="331.9" width="7.2" height="4.2" fill="#c8102e"/>
<line x1="347.7" y1="334" x2="354.9" y2="334" stroke="#4a0812" stroke-width="1.1"/>
<text x="364.4" y="335.86" font-size="5.3" text-anchor="middle" font-weight="normal" fill="#222" stroke="#222" stroke-width="0.06" textLength="15.77" lengthAdjust="spacingAndGlyphs">SAGM</text>
<line x1="382.6" y1="330.2" x2="382.6" y2="337.8" stroke="#555" stroke-width="0.7"/>
<rect x="379" y="331.9" width="7.2" height="4.2" fill="#3ab54a"/>
<line x1="379" y1="334" x2="386.2" y2="334" stroke="#164a1c" stroke-width="1.1"/>
<text x="399.8" y="335.86" font-size="5.3" text-anchor="middle" font-weight="normal" fill="#222" stroke="#222" stroke-width="0.06" textLength="23.97" lengthAdjust="spacingAndGlyphs">PAGGGM</text>
<text x="428.75" y="19.73" font-size="7.8" text-anchor="middle" font-weight="bold" fill="#000" stroke="#000" stroke-width="0.25" textLength="18.05" lengthAdjust="spacingAndGlyphs">AMP</text>
<text x="469" y="28.15" font-size="5" text-anchor="middle" font-weight="normal" fill="#000" stroke="#000" stroke-width="0.08" textLength="35.85" lengthAdjust="spacingAndGlyphs">After transfusion</text>
<line x1="424.25" y1="31.25" x2="424.25" y2="82.6" stroke="#2e2e2e" stroke-width="1.2"/>
<line x1="423.65" y1="82" x2="512.55" y2="82" stroke="#2e2e2e" stroke-width="1.2"/>
<line x1="421.85" y1="38.75" x2="424.25" y2="38.75" stroke="#2e2e2e" stroke-width="0.8"/>
<text x="420.65" y="40.75" font-size="5.3" text-anchor="end" font-weight="normal" fill="#000" stroke="#000" stroke-width="0.15">0.4</text>
<line x1="421.85" y1="49" x2="424.25" y2="49" stroke="#2e2e2e" stroke-width="0.8"/>
<text x="420.65" y="51" font-size="5.3" text-anchor="end" font-weight="normal" fill="#000" stroke="#000" stroke-width="0.15">0.3</text>
<line x1="421.85" y1="59.25" x2="424.25" y2="59.25" stroke="#2e2e2e" stroke-width="0.8"/>
<text x="420.65" y="61.25" font-size="5.3" text-anchor="end" font-weight="normal" fill="#000" stroke="#000" stroke-width="0.15">0.2</text>
<line x1="421.85" y1="69.5" x2="424.25" y2="69.5" stroke="#2e2e2e" stroke-width="0.8"/>
<text x="420.65" y="71.51" font-size="5.3" text-anchor="end" font-weight="normal" fill="#000" stroke="#000" stroke-width="0.15">0.1</text>
<line x1="421.85" y1="79.75" x2="424.25" y2="79.75" stroke="#2e2e2e" stroke-width="0.8"/>
<text x="420.65" y="81.76" font-size="5.3" text-anchor="end" font-weight="normal" fill="#000" stroke="#000" stroke-width="0.15">0.0</text>
<line x1="432.15" y1="82" x2="432.15" y2="84.3" stroke="#2e2e2e" stroke-width="0.8"/>
<line x1="468.55" y1="82" x2="468.55" y2="84.3" stroke="#2e2e2e" stroke-width="0.8"/>
<line x1="505.05" y1="82" x2="505.05" y2="84.3" stroke="#2e2e2e" stroke-width="0.8"/>
<line x1="450.35" y1="82" x2="450.35" y2="83.7" stroke="#2e2e2e" stroke-width="0.7"/>
<line x1="486.75" y1="82" x2="486.75" y2="83.7" stroke="#2e2e2e" stroke-width="0.7"/>
<text x="432.15" y="90.81" font-size="5.3" text-anchor="middle" font-weight="normal" fill="#000" stroke="#000" stroke-width="0.1">10 min</text>
<text x="468.55" y="90.81" font-size="5.3" text-anchor="middle" font-weight="normal" fill="#000" stroke="#000" stroke-width="0.1">6h</text>
<text x="505.05" y="90.81" font-size="5.3" text-anchor="middle" font-weight="normal" fill="#000" stroke="#000" stroke-width="0.1">1d</text>
<line x1="430.5" y1="63.25" x2="430.5" y2="75" stroke="#62c26d" stroke-width="0.75"/>
<line x1="429.6" y1="63.25" x2="431.4" y2="63.25" stroke="#62c26d" stroke-width="0.75"/>
<line x1="429.6" y1="75" x2="431.4" y2="75" stroke="#62c26d" stroke-width="0.75"/>
<line x1="467" y1="33" x2="467" y2="77" stroke="#62c26d" stroke-width="0.75"/>
<line x1="466.1" y1="33" x2="467.9" y2="33" stroke="#62c26d" stroke-width="0.75"/>
<line x1="466.1" y1="77" x2="467.9" y2="77" stroke="#62c26d" stroke-width="0.75"/>
<line x1="503.75" y1="66.25" x2="503.75" y2="72.5" stroke="#62c26d" stroke-width="0.75"/>
<line x1="502.85" y1="66.25" x2="504.65" y2="66.25" stroke="#62c26d" stroke-width="0.75"/>
<line x1="502.85" y1="72.5" x2="504.65" y2="72.5" stroke="#62c26d" stroke-width="0.75"/>
<path d="M430.5 74.5 L467 75.75 L503.75 68" fill="none" stroke="#3ab54a" stroke-width="1.05"/>
<circle cx="430.5" cy="74.5" r="1.2" fill="#3ab54a"/>
<circle cx="467" cy="75.75" r="1.2" fill="#3ab54a"/>
<circle cx="503.75" cy="68" r="1.2" fill="#3ab54a"/>
<line x1="434" y1="48" x2="434" y2="78.75" stroke="#d4445f" stroke-width="0.75"/>
<line x1="433.1" y1="48" x2="434.9" y2="48" stroke="#d4445f" stroke-width="0.75"/>
<line x1="433.1" y1="78.75" x2="434.9" y2="78.75" stroke="#d4445f" stroke-width="0.75"/>
<line x1="470.5" y1="46.25" x2="470.5" y2="79.5" stroke="#d4445f" stroke-width="0.75"/>
<line x1="469.6" y1="46.25" x2="471.4" y2="46.25" stroke="#d4445f" stroke-width="0.75"/>
<line x1="469.6" y1="79.5" x2="471.4" y2="79.5" stroke="#d4445f" stroke-width="0.75"/>
<line x1="507" y1="46.25" x2="507" y2="73.25" stroke="#d4445f" stroke-width="0.75"/>
<line x1="506.1" y1="46.25" x2="507.9" y2="46.25" stroke="#d4445f" stroke-width="0.75"/>
<line x1="506.1" y1="73.25" x2="507.9" y2="73.25" stroke="#d4445f" stroke-width="0.75"/>
<path d="M434 74.5 L470.5 75.5 L507 60" fill="none" stroke="#c8102e" stroke-width="1.05"/>
<circle cx="434" cy="74.5" r="1.2" fill="#c8102e"/>
<circle cx="470.5" cy="75.5" r="1.2" fill="#c8102e"/>
<circle cx="507" cy="60" r="1.2" fill="#c8102e"/>
<text x="500.75" y="35.79" font-size="5.4" text-anchor="middle" font-weight="normal" fill="#000">NS</text>
<text x="428.75" y="98.53" font-size="7.8" text-anchor="middle" font-weight="bold" fill="#000" stroke="#000" stroke-width="0.25" textLength="37.05" lengthAdjust="spacingAndGlyphs">Adenosine</text>
<text x="467.88" y="106.15" font-size="5" text-anchor="middle" font-weight="normal" fill="#000" stroke="#000" stroke-width="0.08" textLength="36.1" lengthAdjust="spacingAndGlyphs">After transfusion</text>
<line x1="424.25" y1="109.5" x2="424.25" y2="160.6" stroke="#2e2e2e" stroke-width="1.2"/>
<line x1="423.65" y1="160" x2="512.55" y2="160" stroke="#2e2e2e" stroke-width="1.2"/>
<line x1="421.85" y1="113.25" x2="424.25" y2="113.25" stroke="#2e2e2e" stroke-width="0.8"/>
<text x="420.65" y="115.26" font-size="5.3" text-anchor="end" font-weight="normal" fill="#000" stroke="#000" stroke-width="0.15">10.0</text>
<line x1="421.85" y1="124.5" x2="424.25" y2="124.5" stroke="#2e2e2e" stroke-width="0.8"/>
<text x="420.65" y="126.51" font-size="5.3" text-anchor="end" font-weight="normal" fill="#000" stroke="#000" stroke-width="0.15">7.5</text>
<line x1="421.85" y1="135.75" x2="424.25" y2="135.75" stroke="#2e2e2e" stroke-width="0.8"/>
<text x="420.65" y="137.75" font-size="5.3" text-anchor="end" font-weight="normal" fill="#000" stroke="#000" stroke-width="0.15">5.0</text>
<line x1="421.85" y1="146.75" x2="424.25" y2="146.75" stroke="#2e2e2e" stroke-width="0.8"/>
<text x="420.65" y="148.75" font-size="5.3" text-anchor="end" font-weight="normal" fill="#000" stroke="#000" stroke-width="0.15">2.5</text>
<line x1="421.85" y1="158" x2="424.25" y2="158" stroke="#2e2e2e" stroke-width="0.8"/>
<text x="420.65" y="160" font-size="5.3" text-anchor="end" font-weight="normal" fill="#000" stroke="#000" stroke-width="0.15">0.0</text>
<line x1="432.15" y1="160" x2="432.15" y2="162.3" stroke="#2e2e2e" stroke-width="0.8"/>
<line x1="468.55" y1="160" x2="468.55" y2="162.3" stroke="#2e2e2e" stroke-width="0.8"/>
<line x1="505.05" y1="160" x2="505.05" y2="162.3" stroke="#2e2e2e" stroke-width="0.8"/>
<line x1="450.35" y1="160" x2="450.35" y2="161.7" stroke="#2e2e2e" stroke-width="0.7"/>
<line x1="486.75" y1="160" x2="486.75" y2="161.7" stroke="#2e2e2e" stroke-width="0.7"/>
<text x="432.15" y="168.8" font-size="5.3" text-anchor="middle" font-weight="normal" fill="#000" stroke="#000" stroke-width="0.1">10 min</text>
<text x="468.55" y="168.8" font-size="5.3" text-anchor="middle" font-weight="normal" fill="#000" stroke="#000" stroke-width="0.1">6h</text>
<text x="505.05" y="168.8" font-size="5.3" text-anchor="middle" font-weight="normal" fill="#000" stroke="#000" stroke-width="0.1">1d</text>
<line x1="430.5" y1="155" x2="430.5" y2="158" stroke="#62c26d" stroke-width="0.75"/>
<line x1="429.6" y1="155" x2="431.4" y2="155" stroke="#62c26d" stroke-width="0.75"/>
<line x1="429.6" y1="158" x2="431.4" y2="158" stroke="#62c26d" stroke-width="0.75"/>
<line x1="467" y1="151.25" x2="467" y2="158" stroke="#62c26d" stroke-width="0.75"/>
<line x1="466.1" y1="151.25" x2="467.9" y2="151.25" stroke="#62c26d" stroke-width="0.75"/>
<line x1="466.1" y1="158" x2="467.9" y2="158" stroke="#62c26d" stroke-width="0.75"/>
<line x1="503.75" y1="152.5" x2="503.75" y2="157.5" stroke="#62c26d" stroke-width="0.75"/>
<line x1="502.85" y1="152.5" x2="504.65" y2="152.5" stroke="#62c26d" stroke-width="0.75"/>
<line x1="502.85" y1="157.5" x2="504.65" y2="157.5" stroke="#62c26d" stroke-width="0.75"/>
<path d="M430.5 156.75 L467 156.25 L503.75 155.75" fill="none" stroke="#3ab54a" stroke-width="1.05"/>
<circle cx="430.5" cy="156.75" r="1.2" fill="#3ab54a"/>
<circle cx="467" cy="156.25" r="1.2" fill="#3ab54a"/>
<circle cx="503.75" cy="155.75" r="1.2" fill="#3ab54a"/>
<line x1="434" y1="157" x2="434" y2="158.5" stroke="#d4445f" stroke-width="0.75"/>
<line x1="433.1" y1="157" x2="434.9" y2="157" stroke="#d4445f" stroke-width="0.75"/>
<line x1="433.1" y1="158.5" x2="434.9" y2="158.5" stroke="#d4445f" stroke-width="0.75"/>
<line x1="470.5" y1="156.5" x2="470.5" y2="158" stroke="#d4445f" stroke-width="0.75"/>
<line x1="469.6" y1="156.5" x2="471.4" y2="156.5" stroke="#d4445f" stroke-width="0.75"/>
<line x1="469.6" y1="158" x2="471.4" y2="158" stroke="#d4445f" stroke-width="0.75"/>
<line x1="507" y1="111.5" x2="507" y2="157.5" stroke="#d4445f" stroke-width="0.75"/>
<line x1="506.1" y1="111.5" x2="507.9" y2="111.5" stroke="#d4445f" stroke-width="0.75"/>
<line x1="506.1" y1="157.5" x2="507.9" y2="157.5" stroke="#d4445f" stroke-width="0.75"/>
<path d="M434 157.75 L470.5 157.25 L507 156.25" fill="none" stroke="#c8102e" stroke-width="1.05"/>
<circle cx="434" cy="157.75" r="1.2" fill="#c8102e"/>
<circle cx="470.5" cy="157.25" r="1.2" fill="#c8102e"/>
<circle cx="507" cy="156.25" r="1.2" fill="#c8102e"/>
<text x="494.5" y="112.09" font-size="5.4" text-anchor="middle" font-weight="normal" fill="#000">NS</text>
<text x="428.75" y="176.73" font-size="7.8" text-anchor="middle" font-weight="bold" fill="#000" stroke="#000" stroke-width="0.25" textLength="47.05" lengthAdjust="spacingAndGlyphs">Hypoxanthine</text>
<text x="467.88" y="187.65" font-size="5" text-anchor="middle" font-weight="normal" fill="#000" stroke="#000" stroke-width="0.08" textLength="36.1" lengthAdjust="spacingAndGlyphs">After transfusion</text>
<line x1="424.25" y1="190.75" x2="424.25" y2="242.6" stroke="#2e2e2e" stroke-width="1.2"/>
<line x1="423.65" y1="242" x2="512.55" y2="242" stroke="#2e2e2e" stroke-width="1.2"/>
<line x1="421.85" y1="198.25" x2="424.25" y2="198.25" stroke="#2e2e2e" stroke-width="0.8"/>
<text x="420.65" y="200.25" font-size="5.3" text-anchor="end" font-weight="normal" fill="#000" stroke="#000" stroke-width="0.15">2.0</text>
<line x1="421.85" y1="209.25" x2="424.25" y2="209.25" stroke="#2e2e2e" stroke-width="0.8"/>
<text x="420.65" y="211.25" font-size="5.3" text-anchor="end" font-weight="normal" fill="#000" stroke="#000" stroke-width="0.15">1.5</text>
<line x1="421.85" y1="220" x2="424.25" y2="220" stroke="#2e2e2e" stroke-width="0.8"/>
<text x="420.65" y="222" font-size="5.3" text-anchor="end" font-weight="normal" fill="#000" stroke="#000" stroke-width="0.15">1.0</text>
<line x1="421.85" y1="230.75" x2="424.25" y2="230.75" stroke="#2e2e2e" stroke-width="0.8"/>
<text x="420.65" y="232.75" font-size="5.3" text-anchor="end" font-weight="normal" fill="#000" stroke="#000" stroke-width="0.15">0.5</text>
<line x1="421.85" y1="241.25" x2="424.25" y2="241.25" stroke="#2e2e2e" stroke-width="0.8"/>
<text x="420.65" y="243.25" font-size="5.3" text-anchor="end" font-weight="normal" fill="#000" stroke="#000" stroke-width="0.15">0.0</text>
<line x1="432.15" y1="242" x2="432.15" y2="244.3" stroke="#2e2e2e" stroke-width="0.8"/>
<line x1="468.55" y1="242" x2="468.55" y2="244.3" stroke="#2e2e2e" stroke-width="0.8"/>
<line x1="505.05" y1="242" x2="505.05" y2="244.3" stroke="#2e2e2e" stroke-width="0.8"/>
<line x1="450.35" y1="242" x2="450.35" y2="243.7" stroke="#2e2e2e" stroke-width="0.7"/>
<line x1="486.75" y1="242" x2="486.75" y2="243.7" stroke="#2e2e2e" stroke-width="0.7"/>
<text x="432.15" y="250.35" font-size="5.3" text-anchor="middle" font-weight="normal" fill="#000" stroke="#000" stroke-width="0.1">10 min</text>
<text x="468.55" y="250.35" font-size="5.3" text-anchor="middle" font-weight="normal" fill="#000" stroke="#000" stroke-width="0.1">6h</text>
<text x="505.05" y="250.35" font-size="5.3" text-anchor="middle" font-weight="normal" fill="#000" stroke="#000" stroke-width="0.1">1d</text>
<line x1="430.5" y1="193" x2="430.5" y2="223" stroke="#62c26d" stroke-width="0.75"/>
<line x1="429.6" y1="193" x2="431.4" y2="193" stroke="#62c26d" stroke-width="0.75"/>
<line x1="429.6" y1="223" x2="431.4" y2="223" stroke="#62c26d" stroke-width="0.75"/>
<line x1="467" y1="202.5" x2="467" y2="234.5" stroke="#62c26d" stroke-width="0.75"/>
<line x1="466.1" y1="202.5" x2="467.9" y2="202.5" stroke="#62c26d" stroke-width="0.75"/>
<line x1="466.1" y1="234.5" x2="467.9" y2="234.5" stroke="#62c26d" stroke-width="0.75"/>
<line x1="503.75" y1="229.5" x2="503.75" y2="234.5" stroke="#62c26d" stroke-width="0.75"/>
<line x1="502.85" y1="229.5" x2="504.65" y2="229.5" stroke="#62c26d" stroke-width="0.75"/>
<line x1="502.85" y1="234.5" x2="504.65" y2="234.5" stroke="#62c26d" stroke-width="0.75"/>
<path d="M430.5 212 L467 228 L503.75 233" fill="none" stroke="#3ab54a" stroke-width="1.05"/>
<circle cx="430.5" cy="212" r="1.2" fill="#3ab54a"/>
<circle cx="467" cy="228" r="1.2" fill="#3ab54a"/>
<circle cx="503.75" cy="233" r="1.2" fill="#3ab54a"/>
<line x1="434" y1="234.5" x2="434" y2="237.5" stroke="#d4445f" stroke-width="0.75"/>
<line x1="433.1" y1="234.5" x2="434.9" y2="234.5" stroke="#d4445f" stroke-width="0.75"/>
<line x1="433.1" y1="237.5" x2="434.9" y2="237.5" stroke="#d4445f" stroke-width="0.75"/>
<line x1="470.5" y1="224.5" x2="470.5" y2="238.75" stroke="#d4445f" stroke-width="0.75"/>
<line x1="469.6" y1="224.5" x2="471.4" y2="224.5" stroke="#d4445f" stroke-width="0.75"/>
<line x1="469.6" y1="238.75" x2="471.4" y2="238.75" stroke="#d4445f" stroke-width="0.75"/>
<line x1="507" y1="230.5" x2="507" y2="239.5" stroke="#d4445f" stroke-width="0.75"/>
<line x1="506.1" y1="230.5" x2="507.9" y2="230.5" stroke="#d4445f" stroke-width="0.75"/>
<line x1="506.1" y1="239.5" x2="507.9" y2="239.5" stroke="#d4445f" stroke-width="0.75"/>
<path d="M434 236.25 L470.5 238 L507 233.75" fill="none" stroke="#c8102e" stroke-width="1.05"/>
<circle cx="434" cy="236.25" r="1.2" fill="#c8102e"/>
<circle cx="470.5" cy="238" r="1.2" fill="#c8102e"/>
<circle cx="507" cy="233.75" r="1.2" fill="#c8102e"/>
<circle cx="428.35" cy="190" r="0.68" fill="#111"/>
<circle cx="430.6" cy="190" r="0.68" fill="#111"/>
<circle cx="432.85" cy="190" r="0.68" fill="#111"/>
<circle cx="465.77" cy="199.5" r="0.68" fill="#111"/>
<circle cx="468.02" cy="199.5" r="0.68" fill="#111"/>
<path d="M509.1 231.3 H510.9 V240.8 H509.1" fill="none" stroke="#4a4a4a" stroke-width="0.85"/>
<circle cx="513.4" cy="234.9" r="0.7" fill="#111"/>
<circle cx="513.4" cy="237.1" r="0.7" fill="#111"/>
<text x="428.75" y="257.93" font-size="7.8" text-anchor="middle" font-weight="bold" fill="#000" stroke="#000" stroke-width="0.25" textLength="31.55" lengthAdjust="spacingAndGlyphs">Xanthine</text>
<text x="467.88" y="264.65" font-size="5" text-anchor="middle" font-weight="normal" fill="#000" stroke="#000" stroke-width="0.08" textLength="36.1" lengthAdjust="spacingAndGlyphs">After transfusion</text>
<line x1="424.25" y1="267.5" x2="424.25" y2="318.85" stroke="#2e2e2e" stroke-width="1.2"/>
<line x1="423.65" y1="318.25" x2="512.55" y2="318.25" stroke="#2e2e2e" stroke-width="1.2"/>
<line x1="421.85" y1="277.75" x2="424.25" y2="277.75" stroke="#2e2e2e" stroke-width="0.8"/>
<text x="420.65" y="279.75" font-size="5.3" text-anchor="end" font-weight="normal" fill="#000" stroke="#000" stroke-width="0.15">0.6</text>
<line x1="421.85" y1="290.75" x2="424.25" y2="290.75" stroke="#2e2e2e" stroke-width="0.8"/>
<text x="420.65" y="292.75" font-size="5.3" text-anchor="end" font-weight="normal" fill="#000" stroke="#000" stroke-width="0.15">0.5</text>
<line x1="421.85" y1="303.75" x2="424.25" y2="303.75" stroke="#2e2e2e" stroke-width="0.8"/>
<text x="420.65" y="305.75" font-size="5.3" text-anchor="end" font-weight="normal" fill="#000" stroke="#000" stroke-width="0.15">0.4</text>
<line x1="421.85" y1="316.5" x2="424.25" y2="316.5" stroke="#2e2e2e" stroke-width="0.8"/>
<text x="420.65" y="318.5" font-size="5.3" text-anchor="end" font-weight="normal" fill="#000" stroke="#000" stroke-width="0.15">0.3</text>
<line x1="432.15" y1="318.25" x2="432.15" y2="320.55" stroke="#2e2e2e" stroke-width="0.8"/>
<line x1="468.55" y1="318.25" x2="468.55" y2="320.55" stroke="#2e2e2e" stroke-width="0.8"/>
<line x1="505.05" y1="318.25" x2="505.05" y2="320.55" stroke="#2e2e2e" stroke-width="0.8"/>
<line x1="450.35" y1="318.25" x2="450.35" y2="319.95" stroke="#2e2e2e" stroke-width="0.7"/>
<line x1="486.75" y1="318.25" x2="486.75" y2="319.95" stroke="#2e2e2e" stroke-width="0.7"/>
<text x="432.15" y="326.56" font-size="5.3" text-anchor="middle" font-weight="normal" fill="#000" stroke="#000" stroke-width="0.1">10 min</text>
<text x="468.55" y="326.56" font-size="5.3" text-anchor="middle" font-weight="normal" fill="#000" stroke="#000" stroke-width="0.1">6h</text>
<text x="505.05" y="326.56" font-size="5.3" text-anchor="middle" font-weight="normal" fill="#000" stroke="#000" stroke-width="0.1">1d</text>
<line x1="430.5" y1="286.25" x2="430.5" y2="315.5" stroke="#62c26d" stroke-width="0.75"/>
<line x1="429.6" y1="286.25" x2="431.4" y2="286.25" stroke="#62c26d" stroke-width="0.75"/>
<line x1="429.6" y1="315.5" x2="431.4" y2="315.5" stroke="#62c26d" stroke-width="0.75"/>
<line x1="467" y1="269.25" x2="467" y2="312" stroke="#62c26d" stroke-width="0.75"/>
<line x1="466.1" y1="269.25" x2="467.9" y2="269.25" stroke="#62c26d" stroke-width="0.75"/>
<line x1="466.1" y1="312" x2="467.9" y2="312" stroke="#62c26d" stroke-width="0.75"/>
<line x1="503.75" y1="289.5" x2="503.75" y2="316.25" stroke="#62c26d" stroke-width="0.75"/>
<line x1="502.85" y1="289.5" x2="504.65" y2="289.5" stroke="#62c26d" stroke-width="0.75"/>
<line x1="502.85" y1="316.25" x2="504.65" y2="316.25" stroke="#62c26d" stroke-width="0.75"/>
<path d="M430.5 310.75 L467 305 L503.75 312" fill="none" stroke="#3ab54a" stroke-width="1.05"/>
<circle cx="430.5" cy="310.75" r="1.2" fill="#3ab54a"/>
<circle cx="467" cy="305" r="1.2" fill="#3ab54a"/>
<circle cx="503.75" cy="312" r="1.2" fill="#3ab54a"/>
<line x1="434" y1="274.25" x2="434" y2="307.5" stroke="#d4445f" stroke-width="0.75"/>
<line x1="433.1" y1="274.25" x2="434.9" y2="274.25" stroke="#d4445f" stroke-width="0.75"/>
<line x1="433.1" y1="307.5" x2="434.9" y2="307.5" stroke="#d4445f" stroke-width="0.75"/>
<line x1="470.5" y1="270.5" x2="470.5" y2="312" stroke="#d4445f" stroke-width="0.75"/>
<line x1="469.6" y1="270.5" x2="471.4" y2="270.5" stroke="#d4445f" stroke-width="0.75"/>
<line x1="469.6" y1="312" x2="471.4" y2="312" stroke="#d4445f" stroke-width="0.75"/>
<line x1="507" y1="282" x2="507" y2="303" stroke="#d4445f" stroke-width="0.75"/>
<line x1="506.1" y1="282" x2="507.9" y2="282" stroke="#d4445f" stroke-width="0.75"/>
<line x1="506.1" y1="303" x2="507.9" y2="303" stroke="#d4445f" stroke-width="0.75"/>
<path d="M434 302 L470.5 297.5 L507 287" fill="none" stroke="#c8102e" stroke-width="1.05"/>
<circle cx="434" cy="302" r="1.2" fill="#c8102e"/>
<circle cx="470.5" cy="297.5" r="1.2" fill="#c8102e"/>
<circle cx="507" cy="287" r="1.2" fill="#c8102e"/>
<text x="503.5" y="275.79" font-size="5.4" text-anchor="middle" font-weight="normal" fill="#000">NS</text>
<line x1="441.8" y1="333.75" x2="448.8" y2="333.75" stroke="#c8102e" stroke-width="1"/>
<circle cx="445.3" cy="333.75" r="1.1" fill="#c8102e"/>
<text x="458.1" y="335.61" font-size="5.3" text-anchor="middle" font-weight="normal" fill="#222" stroke="#222" stroke-width="0.06" textLength="15.77" lengthAdjust="spacingAndGlyphs">SAGM</text>
<line x1="473.1" y1="333.75" x2="480.1" y2="333.75" stroke="#3ab54a" stroke-width="1"/>
<circle cx="476.6" cy="333.75" r="1.1" fill="#3ab54a"/>
<text x="493.4" y="335.61" font-size="5.3" text-anchor="middle" font-weight="normal" fill="#222" stroke="#222" stroke-width="0.06" textLength="23.77" lengthAdjust="spacingAndGlyphs">PAGGGM</text>
<text x="54.15" y="372.35" font-size="5" text-anchor="middle" font-weight="normal" fill="#000" stroke="#000" stroke-width="0.08" textLength="41.25" lengthAdjust="spacingAndGlyphs">Prior to transfusion</text>
<line x1="30.8" y1="375.4" x2="30.8" y2="435.6" stroke="#2e2e2e" stroke-width="1.2"/>
<line x1="30.2" y1="435" x2="84" y2="435" stroke="#2e2e2e" stroke-width="1.2"/>
<line x1="28.4" y1="376.3" x2="30.8" y2="376.3" stroke="#2e2e2e" stroke-width="0.8"/>
<text x="27" y="378.31" font-size="5.3" text-anchor="end" font-weight="normal" fill="#000" stroke="#000" stroke-width="0.15">350000</text>
<line x1="28.4" y1="388.5" x2="30.8" y2="388.5" stroke="#2e2e2e" stroke-width="0.8"/>
<text x="27" y="390.5" font-size="5.3" text-anchor="end" font-weight="normal" fill="#000" stroke="#000" stroke-width="0.15">300000</text>
<line x1="28.4" y1="400.6" x2="30.8" y2="400.6" stroke="#2e2e2e" stroke-width="0.8"/>
<text x="27" y="402.61" font-size="5.3" text-anchor="end" font-weight="normal" fill="#000" stroke="#000" stroke-width="0.15">250000</text>
<line x1="28.4" y1="412.7" x2="30.8" y2="412.7" stroke="#2e2e2e" stroke-width="0.8"/>
<text x="27" y="414.7" font-size="5.3" text-anchor="end" font-weight="normal" fill="#000" stroke="#000" stroke-width="0.15">200000</text>
<line x1="28.4" y1="424.8" x2="30.8" y2="424.8" stroke="#2e2e2e" stroke-width="0.8"/>
<text x="27" y="426.81" font-size="5.3" text-anchor="end" font-weight="normal" fill="#000" stroke="#000" stroke-width="0.15">150000</text>
<line x1="45.6" y1="435" x2="45.6" y2="437.3" stroke="#2e2e2e" stroke-width="0.8"/>
<line x1="69.6" y1="435" x2="69.6" y2="437.3" stroke="#2e2e2e" stroke-width="0.8"/>
<line x1="45.3" y1="416.2" x2="45.3" y2="432.5" stroke="#4a4a4a" stroke-width="0.75"/>
<rect x="36.2" y="417.7" width="18.2" height="11.3" fill="#c8102e"/>
<line x1="36.2" y1="425.3" x2="54.4" y2="425.3" stroke="#3a0610" stroke-width="1.55"/>
<line x1="69.5" y1="398.5" x2="69.5" y2="429.6" stroke="#4a4a4a" stroke-width="0.75"/>
<rect x="60.2" y="407.1" width="18.6" height="18.1" fill="#3ab54a"/>
<line x1="60.2" y1="420.5" x2="78.8" y2="420.5" stroke="#103c15" stroke-width="1.55"/>
<text x="60.35" y="381.09" font-size="5.4" text-anchor="middle" font-weight="normal" fill="#000">NS</text>
<text x="57.4" y="460.05" font-size="5" text-anchor="middle" font-weight="normal" fill="#000" stroke="#000" stroke-width="0.08" textLength="41.35" lengthAdjust="spacingAndGlyphs">Prior to transfusion</text>
<line x1="30.8" y1="463.3" x2="30.8" y2="523.5" stroke="#2e2e2e" stroke-width="1.2"/>
<line x1="30.2" y1="522.9" x2="84" y2="522.9" stroke="#2e2e2e" stroke-width="1.2"/>
<line x1="28.4" y1="470.4" x2="30.8" y2="470.4" stroke="#2e2e2e" stroke-width="0.8"/>
<text x="27" y="472.4" font-size="5.3" text-anchor="end" font-weight="normal" fill="#000" stroke="#000" stroke-width="0.15">300000</text>
<line x1="28.4" y1="482.5" x2="30.8" y2="482.5" stroke="#2e2e2e" stroke-width="0.8"/>
<text x="27" y="484.5" font-size="5.3" text-anchor="end" font-weight="normal" fill="#000" stroke="#000" stroke-width="0.15">250000</text>
<line x1="28.4" y1="494.6" x2="30.8" y2="494.6" stroke="#2e2e2e" stroke-width="0.8"/>
<text x="27" y="496.61" font-size="5.3" text-anchor="end" font-weight="normal" fill="#000" stroke="#000" stroke-width="0.15">200000</text>
<line x1="28.4" y1="506.5" x2="30.8" y2="506.5" stroke="#2e2e2e" stroke-width="0.8"/>
<text x="27" y="508.5" font-size="5.3" text-anchor="end" font-weight="normal" fill="#000" stroke="#000" stroke-width="0.15">150000</text>
<line x1="28.4" y1="518.5" x2="30.8" y2="518.5" stroke="#2e2e2e" stroke-width="0.8"/>
<text x="27" y="520.5" font-size="5.3" text-anchor="end" font-weight="normal" fill="#000" stroke="#000" stroke-width="0.15">100000</text>
<line x1="45.6" y1="522.9" x2="45.6" y2="525.2" stroke="#2e2e2e" stroke-width="0.8"/>
<line x1="69.6" y1="522.9" x2="69.6" y2="525.2" stroke="#2e2e2e" stroke-width="0.8"/>
<line x1="45.3" y1="479.6" x2="45.3" y2="520.5" stroke="#4a4a4a" stroke-width="0.75"/>
<rect x="36.2" y="498.8" width="18.2" height="18.7" fill="#c8102e"/>
<line x1="36.2" y1="507.2" x2="54.4" y2="507.2" stroke="#3a0610" stroke-width="1.55"/>
<line x1="69.5" y1="465.8" x2="69.5" y2="512.7" stroke="#4a4a4a" stroke-width="0.75"/>
<rect x="60.2" y="476.7" width="18.6" height="29.8" fill="#3ab54a"/>
<line x1="60.2" y1="497.6" x2="78.8" y2="497.6" stroke="#103c15" stroke-width="1.55"/>
<text x="58.35" y="469.79" font-size="5.4" text-anchor="middle" font-weight="normal" fill="#000">NS</text>
<text x="57.4" y="553.85" font-size="5" text-anchor="middle" font-weight="normal" fill="#000" stroke="#000" stroke-width="0.08" textLength="41.35" lengthAdjust="spacingAndGlyphs">Prior to transfusion</text>
<line x1="30.8" y1="557.1" x2="30.8" y2="617.7" stroke="#2e2e2e" stroke-width="1.2"/>
<line x1="30.2" y1="617.1" x2="84" y2="617.1" stroke="#2e2e2e" stroke-width="1.2"/>
<line x1="28.4" y1="561.3" x2="30.8" y2="561.3" stroke="#2e2e2e" stroke-width="0.8"/>
<text x="27" y="563.3" font-size="5.3" text-anchor="end" font-weight="normal" fill="#000" stroke="#000" stroke-width="0.15">150000</text>
<line x1="28.4" y1="579.2" x2="30.8" y2="579.2" stroke="#2e2e2e" stroke-width="0.8"/>
<text x="27" y="581.21" font-size="5.3" text-anchor="end" font-weight="normal" fill="#000" stroke="#000" stroke-width="0.15">100000</text>
<line x1="28.4" y1="597.3" x2="30.8" y2="597.3" stroke="#2e2e2e" stroke-width="0.8"/>
<text x="27" y="599.3" font-size="5.3" text-anchor="end" font-weight="normal" fill="#000" stroke="#000" stroke-width="0.15">50000</text>
<line x1="28.4" y1="615.2" x2="30.8" y2="615.2" stroke="#2e2e2e" stroke-width="0.8"/>
<text x="27" y="617.21" font-size="5.3" text-anchor="end" font-weight="normal" fill="#000" stroke="#000" stroke-width="0.15">0</text>
<line x1="45.6" y1="617.1" x2="45.6" y2="619.4" stroke="#2e2e2e" stroke-width="0.8"/>
<line x1="69.6" y1="617.1" x2="69.6" y2="619.4" stroke="#2e2e2e" stroke-width="0.8"/>
<line x1="45.3" y1="579.5" x2="45.3" y2="589.6" stroke="#4a4a4a" stroke-width="0.75"/>
<rect x="36.2" y="580.1" width="18.2" height="5.5" fill="#c8102e"/>
<line x1="36.2" y1="581.5" x2="54.4" y2="581.5" stroke="#3a0610" stroke-width="1.55"/>
<line x1="69.5" y1="562.9" x2="69.5" y2="613.8" stroke="#4a4a4a" stroke-width="0.75"/>
<rect x="60.2" y="590" width="18.6" height="18.5" fill="#3ab54a"/>
<line x1="60.2" y1="599.3" x2="78.8" y2="599.3" stroke="#103c15" stroke-width="1.55"/>
<circle cx="59.6" cy="559.6" r="0.68" fill="#111"/>
<line x1="31.5" y1="633.7" x2="31.5" y2="641.3" stroke="#555" stroke-width="0.7"/>
<rect x="27.9" y="635.4" width="7.2" height="4.2" fill="#c8102e"/>
<line x1="27.9" y1="637.5" x2="35.1" y2="637.5" stroke="#4a0812" stroke-width="1.1"/>
<text x="44.6" y="639.36" font-size="5.3" text-anchor="middle" font-weight="normal" fill="#222" stroke="#222" stroke-width="0.06" textLength="15.77" lengthAdjust="spacingAndGlyphs">SAGM</text>
<line x1="63.2" y1="633.7" x2="63.2" y2="641.3" stroke="#555" stroke-width="0.7"/>
<rect x="59.6" y="635.4" width="7.2" height="4.2" fill="#3ab54a"/>
<line x1="59.6" y1="637.5" x2="66.8" y2="637.5" stroke="#164a1c" stroke-width="1.1"/>
<text x="80.4" y="639.36" font-size="5.3" text-anchor="middle" font-weight="normal" fill="#222" stroke="#222" stroke-width="0.06" textLength="23.97" lengthAdjust="spacingAndGlyphs">PAGGGM</text>
<text x="110.5" y="360.03" font-size="7.8" text-anchor="middle" font-weight="bold" fill="#000" stroke="#000" stroke-width="0.25" textLength="55.55" lengthAdjust="spacingAndGlyphs">Palmitoleic acid</text>
<text x="140.88" y="372.15" font-size="5" text-anchor="middle" font-weight="normal" fill="#000" stroke="#000" stroke-width="0.08" textLength="36.1" lengthAdjust="spacingAndGlyphs">After transfusion</text>
<line x1="102" y1="375.5" x2="102" y2="435.6" stroke="#2e2e2e" stroke-width="1.2"/>
<line x1="101.4" y1="435" x2="190.3" y2="435" stroke="#2e2e2e" stroke-width="1.2"/>
<line x1="99.6" y1="385.5" x2="102" y2="385.5" stroke="#2e2e2e" stroke-width="0.8"/>
<text x="98.4" y="387.5" font-size="5.3" text-anchor="end" font-weight="normal" fill="#000" stroke="#000" stroke-width="0.15">2.0</text>
<line x1="99.6" y1="401.75" x2="102" y2="401.75" stroke="#2e2e2e" stroke-width="0.8"/>
<text x="98.4" y="403.75" font-size="5.3" text-anchor="end" font-weight="normal" fill="#000" stroke="#000" stroke-width="0.15">1.5</text>
<line x1="99.6" y1="418" x2="102" y2="418" stroke="#2e2e2e" stroke-width="0.8"/>
<text x="98.4" y="420" font-size="5.3" text-anchor="end" font-weight="normal" fill="#000" stroke="#000" stroke-width="0.15">1.0</text>
<line x1="99.6" y1="434.25" x2="102" y2="434.25" stroke="#2e2e2e" stroke-width="0.8"/>
<text x="98.4" y="436.25" font-size="5.3" text-anchor="end" font-weight="normal" fill="#000" stroke="#000" stroke-width="0.15">0.5</text>
<line x1="109.9" y1="435" x2="109.9" y2="437.3" stroke="#2e2e2e" stroke-width="0.8"/>
<line x1="146.3" y1="435" x2="146.3" y2="437.3" stroke="#2e2e2e" stroke-width="0.8"/>
<line x1="182.8" y1="435" x2="182.8" y2="437.3" stroke="#2e2e2e" stroke-width="0.8"/>
<line x1="128.1" y1="435" x2="128.1" y2="436.7" stroke="#2e2e2e" stroke-width="0.7"/>
<line x1="164.5" y1="435" x2="164.5" y2="436.7" stroke="#2e2e2e" stroke-width="0.7"/>
<text x="109.9" y="443.31" font-size="5.3" text-anchor="middle" font-weight="normal" fill="#000" stroke="#000" stroke-width="0.1">10 min</text>
<text x="146.3" y="443.31" font-size="5.3" text-anchor="middle" font-weight="normal" fill="#000" stroke="#000" stroke-width="0.1">6h</text>
<text x="182.8" y="443.31" font-size="5.3" text-anchor="middle" font-weight="normal" fill="#000" stroke="#000" stroke-width="0.1">1d</text>
<line x1="107.5" y1="405" x2="107.5" y2="424.5" stroke="#62c26d" stroke-width="0.75"/>
<line x1="106.6" y1="405" x2="108.4" y2="405" stroke="#62c26d" stroke-width="0.75"/>
<line x1="106.6" y1="424.5" x2="108.4" y2="424.5" stroke="#62c26d" stroke-width="0.75"/>
<line x1="144.25" y1="408.75" x2="144.25" y2="416.75" stroke="#62c26d" stroke-width="0.75"/>
<line x1="143.35" y1="408.75" x2="145.15" y2="408.75" stroke="#62c26d" stroke-width="0.75"/>
<line x1="143.35" y1="416.75" x2="145.15" y2="416.75" stroke="#62c26d" stroke-width="0.75"/>
<line x1="180.75" y1="423" x2="180.75" y2="432.5" stroke="#62c26d" stroke-width="0.75"/>
<line x1="179.85" y1="423" x2="181.65" y2="423" stroke="#62c26d" stroke-width="0.75"/>
<line x1="179.85" y1="432.5" x2="181.65" y2="432.5" stroke="#62c26d" stroke-width="0.75"/>
<path d="M107.5 409.25 L144.25 412.5 L180.75 428" fill="none" stroke="#3ab54a" stroke-width="1.05"/>
<circle cx="107.5" cy="409.25" r="1.2" fill="#3ab54a"/>
<circle cx="144.25" cy="412.5" r="1.2" fill="#3ab54a"/>
<circle cx="180.75" cy="428" r="1.2" fill="#3ab54a"/>
<line x1="111.25" y1="417" x2="111.25" y2="432.5" stroke="#d4445f" stroke-width="0.75"/>
<line x1="110.35" y1="417" x2="112.15" y2="417" stroke="#d4445f" stroke-width="0.75"/>
<line x1="110.35" y1="432.5" x2="112.15" y2="432.5" stroke="#d4445f" stroke-width="0.75"/>
<line x1="148" y1="422.5" x2="148" y2="426.25" stroke="#d4445f" stroke-width="0.75"/>
<line x1="147.1" y1="422.5" x2="148.9" y2="422.5" stroke="#d4445f" stroke-width="0.75"/>
<line x1="147.1" y1="426.25" x2="148.9" y2="426.25" stroke="#d4445f" stroke-width="0.75"/>
<line x1="184.25" y1="378" x2="184.25" y2="423.25" stroke="#d4445f" stroke-width="0.75"/>
<line x1="183.35" y1="378" x2="185.15" y2="378" stroke="#d4445f" stroke-width="0.75"/>
<line x1="183.35" y1="423.25" x2="185.15" y2="423.25" stroke="#d4445f" stroke-width="0.75"/>
<path d="M111.25 421.75 L148 424.5 L184.25 414.5" fill="none" stroke="#c8102e" stroke-width="1.05"/>
<circle cx="111.25" cy="421.75" r="1.2" fill="#c8102e"/>
<circle cx="148" cy="424.5" r="1.2" fill="#c8102e"/>
<circle cx="184.25" cy="414.5" r="1.2" fill="#c8102e"/>
<text x="176.25" y="376.29" font-size="5.4" text-anchor="middle" font-weight="normal" fill="#000">NS</text>
<text x="110.62" y="451.83" font-size="7.8" text-anchor="middle" font-weight="bold" fill="#000" stroke="#000" stroke-width="0.25" textLength="43.3" lengthAdjust="spacingAndGlyphs">Linoleic acid</text>
<text x="146" y="460.15" font-size="5" text-anchor="middle" font-weight="normal" fill="#000" stroke="#000" stroke-width="0.08" textLength="35.85" lengthAdjust="spacingAndGlyphs">After transfusion</text>
<line x1="102" y1="462.5" x2="102" y2="523.1" stroke="#2e2e2e" stroke-width="1.2"/>
<line x1="101.4" y1="522.5" x2="190.3" y2="522.5" stroke="#2e2e2e" stroke-width="1.2"/>
<line x1="99.6" y1="465.5" x2="102" y2="465.5" stroke="#2e2e2e" stroke-width="0.8"/>
<text x="98.4" y="467.5" font-size="5.3" text-anchor="end" font-weight="normal" fill="#000" stroke="#000" stroke-width="0.15">1.6</text>
<line x1="99.6" y1="481.5" x2="102" y2="481.5" stroke="#2e2e2e" stroke-width="0.8"/>
<text x="98.4" y="483.5" font-size="5.3" text-anchor="end" font-weight="normal" fill="#000" stroke="#000" stroke-width="0.15">1.2</text>
<line x1="99.6" y1="497.5" x2="102" y2="497.5" stroke="#2e2e2e" stroke-width="0.8"/>
<text x="98.4" y="499.5" font-size="5.3" text-anchor="end" font-weight="normal" fill="#000" stroke="#000" stroke-width="0.15">0.8</text>
<line x1="99.6" y1="513.75" x2="102" y2="513.75" stroke="#2e2e2e" stroke-width="0.8"/>
<text x="98.4" y="515.75" font-size="5.3" text-anchor="end" font-weight="normal" fill="#000" stroke="#000" stroke-width="0.15">0.4</text>
<line x1="109.9" y1="522.5" x2="109.9" y2="524.8" stroke="#2e2e2e" stroke-width="0.8"/>
<line x1="146.3" y1="522.5" x2="146.3" y2="524.8" stroke="#2e2e2e" stroke-width="0.8"/>
<line x1="182.8" y1="522.5" x2="182.8" y2="524.8" stroke="#2e2e2e" stroke-width="0.8"/>
<line x1="128.1" y1="522.5" x2="128.1" y2="524.2" stroke="#2e2e2e" stroke-width="0.7"/>
<line x1="164.5" y1="522.5" x2="164.5" y2="524.2" stroke="#2e2e2e" stroke-width="0.7"/>
<text x="109.9" y="531.31" font-size="5.3" text-anchor="middle" font-weight="normal" fill="#000" stroke="#000" stroke-width="0.1">10 min</text>
<text x="146.3" y="531.31" font-size="5.3" text-anchor="middle" font-weight="normal" fill="#000" stroke="#000" stroke-width="0.1">6h</text>
<text x="182.8" y="531.31" font-size="5.3" text-anchor="middle" font-weight="normal" fill="#000" stroke="#000" stroke-width="0.1">1d</text>
<line x1="107.5" y1="469.5" x2="107.5" y2="516.25" stroke="#62c26d" stroke-width="0.75"/>
<line x1="106.6" y1="469.5" x2="108.4" y2="469.5" stroke="#62c26d" stroke-width="0.75"/>
<line x1="106.6" y1="516.25" x2="108.4" y2="516.25" stroke="#62c26d" stroke-width="0.75"/>
<line x1="144.25" y1="477.5" x2="144.25" y2="500.5" stroke="#62c26d" stroke-width="0.75"/>
<line x1="143.35" y1="477.5" x2="145.15" y2="477.5" stroke="#62c26d" stroke-width="0.75"/>
<line x1="143.35" y1="500.5" x2="145.15" y2="500.5" stroke="#62c26d" stroke-width="0.75"/>
<line x1="180.75" y1="502.5" x2="180.75" y2="519.5" stroke="#62c26d" stroke-width="0.75"/>
<line x1="179.85" y1="502.5" x2="181.65" y2="502.5" stroke="#62c26d" stroke-width="0.75"/>
<line x1="179.85" y1="519.5" x2="181.65" y2="519.5" stroke="#62c26d" stroke-width="0.75"/>
<path d="M107.5 500.75 L144.25 492 L180.75 509.5" fill="none" stroke="#3ab54a" stroke-width="1.05"/>
<circle cx="107.5" cy="500.75" r="1.2" fill="#3ab54a"/>
<circle cx="144.25" cy="492" r="1.2" fill="#3ab54a"/>
<circle cx="180.75" cy="509.5" r="1.2" fill="#3ab54a"/>
<line x1="111.25" y1="474.5" x2="111.25" y2="508.75" stroke="#d4445f" stroke-width="0.75"/>
<line x1="110.35" y1="474.5" x2="112.15" y2="474.5" stroke="#d4445f" stroke-width="0.75"/>
<line x1="110.35" y1="508.75" x2="112.15" y2="508.75" stroke="#d4445f" stroke-width="0.75"/>
<line x1="148" y1="494.5" x2="148" y2="509.5" stroke="#d4445f" stroke-width="0.75"/>
<line x1="147.1" y1="494.5" x2="148.9" y2="494.5" stroke="#d4445f" stroke-width="0.75"/>
<line x1="147.1" y1="509.5" x2="148.9" y2="509.5" stroke="#d4445f" stroke-width="0.75"/>
<line x1="184.25" y1="465.5" x2="184.25" y2="487.5" stroke="#d4445f" stroke-width="0.75"/>
<line x1="183.35" y1="465.5" x2="185.15" y2="465.5" stroke="#d4445f" stroke-width="0.75"/>
<line x1="183.35" y1="487.5" x2="185.15" y2="487.5" stroke="#d4445f" stroke-width="0.75"/>
<path d="M111.25 487 L148 502.5 L184.25 480" fill="none" stroke="#c8102e" stroke-width="1.05"/>
<circle cx="111.25" cy="487" r="1.2" fill="#c8102e"/>
<circle cx="148" cy="502.5" r="1.2" fill="#c8102e"/>
<circle cx="184.25" cy="480" r="1.2" fill="#c8102e"/>
<circle cx="184.25" cy="461.75" r="0.68" fill="#111"/>
<path d="M186.2 474.5 H188.5 V515.6 H186.2" fill="none" stroke="#4a4a4a" stroke-width="0.85"/>
<circle cx="190.6" cy="494" r="0.68" fill="#111"/>
<text x="110.62" y="544.03" font-size="7.8" text-anchor="middle" font-weight="bold" fill="#000" stroke="#000" stroke-width="0.25" textLength="57.8" lengthAdjust="spacingAndGlyphs">Arachidonic acid</text>
<text x="146" y="554.15" font-size="5" text-anchor="middle" font-weight="normal" fill="#000" stroke="#000" stroke-width="0.08" textLength="35.85" lengthAdjust="spacingAndGlyphs">After transfusion</text>
<line x1="102" y1="557" x2="102" y2="616.85" stroke="#2e2e2e" stroke-width="1.2"/>
<line x1="101.4" y1="616.25" x2="190.3" y2="616.25" stroke="#2e2e2e" stroke-width="1.2"/>
<line x1="99.6" y1="565.75" x2="102" y2="565.75" stroke="#2e2e2e" stroke-width="0.8"/>
<text x="98.4" y="567.75" font-size="5.3" text-anchor="end" font-weight="normal" fill="#000" stroke="#000" stroke-width="0.15">1.5</text>
<line x1="99.6" y1="583.5" x2="102" y2="583.5" stroke="#2e2e2e" stroke-width="0.8"/>
<text x="98.4" y="585.5" font-size="5.3" text-anchor="end" font-weight="normal" fill="#000" stroke="#000" stroke-width="0.15">1.0</text>
<line x1="99.6" y1="601.25" x2="102" y2="601.25" stroke="#2e2e2e" stroke-width="0.8"/>
<text x="98.4" y="603.25" font-size="5.3" text-anchor="end" font-weight="normal" fill="#000" stroke="#000" stroke-width="0.15">0.5</text>
<line x1="109.9" y1="616.25" x2="109.9" y2="618.55" stroke="#2e2e2e" stroke-width="0.8"/>
<line x1="146.3" y1="616.25" x2="146.3" y2="618.55" stroke="#2e2e2e" stroke-width="0.8"/>
<line x1="182.8" y1="616.25" x2="182.8" y2="618.55" stroke="#2e2e2e" stroke-width="0.8"/>
<line x1="128.1" y1="616.25" x2="128.1" y2="617.95" stroke="#2e2e2e" stroke-width="0.7"/>
<line x1="164.5" y1="616.25" x2="164.5" y2="617.95" stroke="#2e2e2e" stroke-width="0.7"/>
<text x="109.9" y="625.06" font-size="5.3" text-anchor="middle" font-weight="normal" fill="#000" stroke="#000" stroke-width="0.1">10 min</text>
<text x="146.3" y="625.06" font-size="5.3" text-anchor="middle" font-weight="normal" fill="#000" stroke="#000" stroke-width="0.1">6h</text>
<text x="182.8" y="625.06" font-size="5.3" text-anchor="middle" font-weight="normal" fill="#000" stroke="#000" stroke-width="0.1">1d</text>
<line x1="107.5" y1="578.25" x2="107.5" y2="611.25" stroke="#62c26d" stroke-width="0.75"/>
<line x1="106.6" y1="578.25" x2="108.4" y2="578.25" stroke="#62c26d" stroke-width="0.75"/>
<line x1="106.6" y1="611.25" x2="108.4" y2="611.25" stroke="#62c26d" stroke-width="0.75"/>
<line x1="144.25" y1="559.25" x2="144.25" y2="599.5" stroke="#62c26d" stroke-width="0.75"/>
<line x1="143.35" y1="559.25" x2="145.15" y2="559.25" stroke="#62c26d" stroke-width="0.75"/>
<line x1="143.35" y1="599.5" x2="145.15" y2="599.5" stroke="#62c26d" stroke-width="0.75"/>
<line x1="180.75" y1="593.25" x2="180.75" y2="614.5" stroke="#62c26d" stroke-width="0.75"/>
<line x1="179.85" y1="593.25" x2="181.65" y2="593.25" stroke="#62c26d" stroke-width="0.75"/>
<line x1="179.85" y1="614.5" x2="181.65" y2="614.5" stroke="#62c26d" stroke-width="0.75"/>
<path d="M107.5 595 L144.25 593 L180.75 598" fill="none" stroke="#3ab54a" stroke-width="1.05"/>
<circle cx="107.5" cy="595" r="1.2" fill="#3ab54a"/>
<circle cx="144.25" cy="593" r="1.2" fill="#3ab54a"/>
<circle cx="180.75" cy="598" r="1.2" fill="#3ab54a"/>
<line x1="111.25" y1="576.25" x2="111.25" y2="606.25" stroke="#d4445f" stroke-width="0.75"/>
<line x1="110.35" y1="576.25" x2="112.15" y2="576.25" stroke="#d4445f" stroke-width="0.75"/>
<line x1="110.35" y1="606.25" x2="112.15" y2="606.25" stroke="#d4445f" stroke-width="0.75"/>
<line x1="148" y1="586.25" x2="148" y2="603.75" stroke="#d4445f" stroke-width="0.75"/>
<line x1="147.1" y1="586.25" x2="148.9" y2="586.25" stroke="#d4445f" stroke-width="0.75"/>
<line x1="147.1" y1="603.75" x2="148.9" y2="603.75" stroke="#d4445f" stroke-width="0.75"/>
<line x1="184.25" y1="562.5" x2="184.25" y2="580.5" stroke="#d4445f" stroke-width="0.75"/>
<line x1="183.35" y1="562.5" x2="185.15" y2="562.5" stroke="#d4445f" stroke-width="0.75"/>
<line x1="183.35" y1="580.5" x2="185.15" y2="580.5" stroke="#d4445f" stroke-width="0.75"/>
<path d="M111.25 579.25 L148 591.75 L184.25 571.25" fill="none" stroke="#c8102e" stroke-width="1.05"/>
<circle cx="111.25" cy="579.25" r="1.2" fill="#c8102e"/>
<circle cx="148" cy="591.75" r="1.2" fill="#c8102e"/>
<circle cx="184.25" cy="571.25" r="1.2" fill="#c8102e"/>
<text x="178.5" y="561.59" font-size="5.4" text-anchor="middle" font-weight="normal" fill="#000">NS</text>
<line x1="122.2" y1="636.75" x2="129.2" y2="636.75" stroke="#c8102e" stroke-width="1"/>
<circle cx="125.7" cy="636.75" r="1.1" fill="#c8102e"/>
<text x="138.5" y="638.61" font-size="5.3" text-anchor="middle" font-weight="normal" fill="#222" stroke="#222" stroke-width="0.06" textLength="15.77" lengthAdjust="spacingAndGlyphs">SAGM</text>
<line x1="152.9" y1="636.75" x2="159.9" y2="636.75" stroke="#3ab54a" stroke-width="1"/>
<circle cx="156.4" cy="636.75" r="1.1" fill="#3ab54a"/>
<text x="173.2" y="638.61" font-size="5.3" text-anchor="middle" font-weight="normal" fill="#222" stroke="#222" stroke-width="0.06" textLength="23.77" lengthAdjust="spacingAndGlyphs">PAGGGM</text>
<text x="236.35" y="391.87" font-size="7.35" text-anchor="middle" font-weight="normal" fill="#000" stroke="#000" stroke-width="0.09" textLength="33.94" lengthAdjust="spacingAndGlyphs">Palmitoleic</text>
<text x="236.35" y="400.97" font-size="7.35" text-anchor="middle" font-weight="normal" fill="#000" stroke="#000" stroke-width="0.09" textLength="14.14" lengthAdjust="spacingAndGlyphs">acid</text>
<text x="287.6" y="391.87" font-size="7.35" text-anchor="middle" font-weight="normal" fill="#000" stroke="#000" stroke-width="0.09" textLength="24.64" lengthAdjust="spacingAndGlyphs">Palmitic</text>
<text x="287.35" y="400.97" font-size="7.35" text-anchor="middle" font-weight="normal" fill="#000" stroke="#000" stroke-width="0.09" textLength="13.54" lengthAdjust="spacingAndGlyphs">acid</text>
<text x="236.35" y="498.77" font-size="7.35" text-anchor="middle" font-weight="normal" fill="#000" stroke="#000" stroke-width="0.09" textLength="23.74" lengthAdjust="spacingAndGlyphs">Linoleic</text>
<text x="236.35" y="507.67" font-size="7.35" text-anchor="middle" font-weight="normal" fill="#000" stroke="#000" stroke-width="0.09" textLength="14.14" lengthAdjust="spacingAndGlyphs">acid</text>
<text x="286.3" y="498.77" font-size="7.35" text-anchor="middle" font-weight="normal" fill="#000" stroke="#000" stroke-width="0.09" textLength="21.64" lengthAdjust="spacingAndGlyphs">Stearic</text>
<text x="287.35" y="507.67" font-size="7.35" text-anchor="middle" font-weight="normal" fill="#000" stroke="#000" stroke-width="0.09" textLength="13.54" lengthAdjust="spacingAndGlyphs">acid</text>
<text x="236.25" y="601.47" font-size="7.35" text-anchor="middle" font-weight="normal" fill="#000" stroke="#000" stroke-width="0.09" textLength="36.94" lengthAdjust="spacingAndGlyphs">Arachidonic</text>
<text x="236.35" y="609.97" font-size="7.35" text-anchor="middle" font-weight="normal" fill="#000" stroke="#000" stroke-width="0.09" textLength="14.14" lengthAdjust="spacingAndGlyphs">acid</text>
<text x="287.5" y="601.47" font-size="7.35" text-anchor="middle" font-weight="normal" fill="#000" stroke="#000" stroke-width="0.09" textLength="17.04" lengthAdjust="spacingAndGlyphs">Oleic</text>
<text x="287.35" y="609.97" font-size="7.35" text-anchor="middle" font-weight="normal" fill="#000" stroke="#000" stroke-width="0.09" textLength="13.54" lengthAdjust="spacingAndGlyphs">acid</text>
<line x1="272" y1="393.5" x2="260.36" y2="393.5" stroke="#000" stroke-width="1.3"/>
<path d="M262.6 390.55 L262.6 396.45 L257 393.5 Z" fill="#000"/>
<line x1="287.2" y1="408.1" x2="287.2" y2="483.14" stroke="#000" stroke-width="1.3"/>
<path d="M284.25 480.9 L290.15 480.9 L287.2 486.5 Z" fill="#000"/>
<line x1="236.2" y1="517" x2="236.2" y2="585.14" stroke="#000" stroke-width="1.3"/>
<path d="M233.25 582.9 L239.15 582.9 L236.2 588.5 Z" fill="#000"/>
<line x1="287.2" y1="517" x2="287.2" y2="585.14" stroke="#000" stroke-width="1.3"/>
<path d="M284.25 582.9 L290.15 582.9 L287.2 588.5 Z" fill="#000"/>
<text x="368" y="372.35" font-size="5" text-anchor="middle" font-weight="normal" fill="#000" stroke="#000" stroke-width="0.08" textLength="41.75" lengthAdjust="spacingAndGlyphs">Prior to transfusion</text>
<line x1="344.4" y1="375.2" x2="344.4" y2="435.8" stroke="#2e2e2e" stroke-width="1.2"/>
<line x1="343.8" y1="435.2" x2="391.9" y2="435.2" stroke="#2e2e2e" stroke-width="1.2"/>
<line x1="342" y1="383.3" x2="344.4" y2="383.3" stroke="#2e2e2e" stroke-width="0.8"/>
<text x="340.6" y="385.31" font-size="5.3" text-anchor="end" font-weight="normal" fill="#000" stroke="#000" stroke-width="0.15">15000000</text>
<line x1="342" y1="395.8" x2="344.4" y2="395.8" stroke="#2e2e2e" stroke-width="0.8"/>
<text x="340.6" y="397.81" font-size="5.3" text-anchor="end" font-weight="normal" fill="#000" stroke="#000" stroke-width="0.15">12500000</text>
<line x1="342" y1="408.3" x2="344.4" y2="408.3" stroke="#2e2e2e" stroke-width="0.8"/>
<text x="340.6" y="410.31" font-size="5.3" text-anchor="end" font-weight="normal" fill="#000" stroke="#000" stroke-width="0.15">10000000</text>
<line x1="342" y1="420.8" x2="344.4" y2="420.8" stroke="#2e2e2e" stroke-width="0.8"/>
<text x="340.6" y="422.81" font-size="5.3" text-anchor="end" font-weight="normal" fill="#000" stroke="#000" stroke-width="0.15">7500000</text>
<line x1="342" y1="433.3" x2="344.4" y2="433.3" stroke="#2e2e2e" stroke-width="0.8"/>
<text x="340.6" y="435.31" font-size="5.3" text-anchor="end" font-weight="normal" fill="#000" stroke="#000" stroke-width="0.15">5000000</text>
<line x1="357.3" y1="435.2" x2="357.3" y2="437.5" stroke="#2e2e2e" stroke-width="0.8"/>
<line x1="379" y1="435.2" x2="379" y2="437.5" stroke="#2e2e2e" stroke-width="0.8"/>
<line x1="357.6" y1="420.8" x2="357.6" y2="432.3" stroke="#4a4a4a" stroke-width="0.75"/>
<rect x="349.2" y="424" width="16.8" height="5.8" fill="#c8102e"/>
<line x1="349.2" y1="426.8" x2="366" y2="426.8" stroke="#3a0610" stroke-width="1.55"/>
<line x1="379.15" y1="378.1" x2="379.15" y2="420.8" stroke="#4a4a4a" stroke-width="0.75"/>
<rect x="371" y="381.9" width="16.3" height="25.4" fill="#3ab54a"/>
<line x1="371" y1="397.6" x2="387.3" y2="397.6" stroke="#103c15" stroke-width="1.55"/>
<circle cx="368.15" cy="377.5" r="0.68" fill="#111"/>
<circle cx="370.4" cy="377.5" r="0.68" fill="#111"/>
<circle cx="372.65" cy="377.5" r="0.68" fill="#111"/>
<text x="368" y="460.05" font-size="5" text-anchor="middle" font-weight="normal" fill="#000" stroke="#000" stroke-width="0.08" textLength="41.75" lengthAdjust="spacingAndGlyphs">Prior to transfusion</text>
<line x1="344.4" y1="463.1" x2="344.4" y2="523.5" stroke="#2e2e2e" stroke-width="1.2"/>
<line x1="343.8" y1="522.9" x2="400.6" y2="522.9" stroke="#2e2e2e" stroke-width="1.2"/>
<line x1="342" y1="470.8" x2="344.4" y2="470.8" stroke="#2e2e2e" stroke-width="0.8"/>
<text x="340.6" y="472.81" font-size="5.3" text-anchor="end" font-weight="normal" fill="#000" stroke="#000" stroke-width="0.15">5e+07</text>
<line x1="342" y1="482.3" x2="344.4" y2="482.3" stroke="#2e2e2e" stroke-width="0.8"/>
<text x="340.6" y="484.31" font-size="5.3" text-anchor="end" font-weight="normal" fill="#000" stroke="#000" stroke-width="0.15">4e+07</text>
<line x1="342" y1="493.8" x2="344.4" y2="493.8" stroke="#2e2e2e" stroke-width="0.8"/>
<text x="340.6" y="495.81" font-size="5.3" text-anchor="end" font-weight="normal" fill="#000" stroke="#000" stroke-width="0.15">3e+07</text>
<line x1="342" y1="505.4" x2="344.4" y2="505.4" stroke="#2e2e2e" stroke-width="0.8"/>
<text x="340.6" y="507.4" font-size="5.3" text-anchor="end" font-weight="normal" fill="#000" stroke="#000" stroke-width="0.15">2e+07</text>
<line x1="342" y1="517.1" x2="344.4" y2="517.1" stroke="#2e2e2e" stroke-width="0.8"/>
<text x="340.6" y="519.11" font-size="5.3" text-anchor="end" font-weight="normal" fill="#000" stroke="#000" stroke-width="0.15">1e+07</text>
<line x1="360.2" y1="522.9" x2="360.2" y2="525.2" stroke="#2e2e2e" stroke-width="0.8"/>
<line x1="385.4" y1="522.9" x2="385.4" y2="525.2" stroke="#2e2e2e" stroke-width="0.8"/>
<line x1="359.8" y1="513.7" x2="359.8" y2="520" stroke="#4a4a4a" stroke-width="0.75"/>
<rect x="350.2" y="515" width="19.2" height="4.4" fill="#c8102e"/>
<line x1="350.2" y1="517.4" x2="369.4" y2="517.4" stroke="#3a0610" stroke-width="1.55"/>
<line x1="385.4" y1="465.6" x2="385.4" y2="513.1" stroke="#4a4a4a" stroke-width="0.75"/>
<rect x="375.8" y="474.2" width="19.2" height="19.3" fill="#3ab54a"/>
<line x1="375.8" y1="488" x2="395" y2="488" stroke="#103c15" stroke-width="1.55"/>
<circle cx="372.55" cy="465.2" r="0.68" fill="#111"/>
<circle cx="374.8" cy="465.2" r="0.68" fill="#111"/>
<circle cx="377.05" cy="465.2" r="0.68" fill="#111"/>
<text x="372.55" y="554.15" font-size="5" text-anchor="middle" font-weight="normal" fill="#000" stroke="#000" stroke-width="0.08" textLength="41.85" lengthAdjust="spacingAndGlyphs">Prior to transfusion</text>
<line x1="344.4" y1="557.2" x2="344.4" y2="617.4" stroke="#2e2e2e" stroke-width="1.2"/>
<line x1="343.8" y1="616.8" x2="400.8" y2="616.8" stroke="#2e2e2e" stroke-width="1.2"/>
<line x1="342" y1="566.8" x2="344.4" y2="566.8" stroke="#2e2e2e" stroke-width="0.8"/>
<text x="340.6" y="568.8" font-size="5.3" text-anchor="end" font-weight="normal" fill="#000" stroke="#000" stroke-width="0.15">8e+05</text>
<line x1="342" y1="583.6" x2="344.4" y2="583.6" stroke="#2e2e2e" stroke-width="0.8"/>
<text x="340.6" y="585.61" font-size="5.3" text-anchor="end" font-weight="normal" fill="#000" stroke="#000" stroke-width="0.15">6e+05</text>
<line x1="342" y1="600.4" x2="344.4" y2="600.4" stroke="#2e2e2e" stroke-width="0.8"/>
<text x="340.6" y="602.4" font-size="5.3" text-anchor="end" font-weight="normal" fill="#000" stroke="#000" stroke-width="0.15">4e+05</text>
<line x1="360" y1="616.8" x2="360" y2="619.1" stroke="#2e2e2e" stroke-width="0.8"/>
<line x1="385" y1="616.8" x2="385" y2="619.1" stroke="#2e2e2e" stroke-width="0.8"/>
<line x1="360.05" y1="588.6" x2="360.05" y2="613.9" stroke="#4a4a4a" stroke-width="0.75"/>
<rect x="350.5" y="589.2" width="19.1" height="18.3" fill="#c8102e"/>
<line x1="350.5" y1="594.8" x2="369.6" y2="594.8" stroke="#3a0610" stroke-width="1.55"/>
<line x1="385.5" y1="559.9" x2="385.5" y2="602" stroke="#4a4a4a" stroke-width="0.75"/>
<rect x="376.1" y="573" width="18.8" height="20.1" fill="#3ab54a"/>
<line x1="376.1" y1="590.5" x2="394.9" y2="590.5" stroke="#103c15" stroke-width="1.55"/>
<text x="371.9" y="561.79" font-size="5.4" text-anchor="middle" font-weight="normal" fill="#000">NS</text>
<line x1="350.7" y1="633.4" x2="350.7" y2="641" stroke="#555" stroke-width="0.7"/>
<rect x="347.1" y="635.1" width="7.2" height="4.2" fill="#c8102e"/>
<line x1="347.1" y1="637.2" x2="354.3" y2="637.2" stroke="#4a0812" stroke-width="1.1"/>
<text x="363.8" y="639.06" font-size="5.3" text-anchor="middle" font-weight="normal" fill="#222" stroke="#222" stroke-width="0.06" textLength="15.77" lengthAdjust="spacingAndGlyphs">SAGM</text>
<line x1="382.7" y1="633.4" x2="382.7" y2="641" stroke="#555" stroke-width="0.7"/>
<rect x="379.1" y="635.1" width="7.2" height="4.2" fill="#3ab54a"/>
<line x1="379.1" y1="637.2" x2="386.3" y2="637.2" stroke="#164a1c" stroke-width="1.1"/>
<text x="399.9" y="639.06" font-size="5.3" text-anchor="middle" font-weight="normal" fill="#222" stroke="#222" stroke-width="0.06" textLength="23.97" lengthAdjust="spacingAndGlyphs">PAGGGM</text>
<text x="428.88" y="360.03" font-size="7.8" text-anchor="middle" font-weight="bold" fill="#000" stroke="#000" stroke-width="0.25" textLength="44.3" lengthAdjust="spacingAndGlyphs">Palmitic acid</text>
<text x="468.75" y="372.15" font-size="5" text-anchor="middle" font-weight="normal" fill="#000" stroke="#000" stroke-width="0.08" textLength="36.35" lengthAdjust="spacingAndGlyphs">After transfusion</text>
<line x1="424.25" y1="375.5" x2="424.25" y2="435.6" stroke="#2e2e2e" stroke-width="1.2"/>
<line x1="423.65" y1="435" x2="512.55" y2="435" stroke="#2e2e2e" stroke-width="1.2"/>
<line x1="421.85" y1="379.25" x2="424.25" y2="379.25" stroke="#2e2e2e" stroke-width="0.8"/>
<text x="420.65" y="381.25" font-size="5.3" text-anchor="end" font-weight="normal" fill="#000" stroke="#000" stroke-width="0.15">1.75</text>
<line x1="421.85" y1="390.25" x2="424.25" y2="390.25" stroke="#2e2e2e" stroke-width="0.8"/>
<text x="420.65" y="392.25" font-size="5.3" text-anchor="end" font-weight="normal" fill="#000" stroke="#000" stroke-width="0.15">1.50</text>
<line x1="421.85" y1="401.5" x2="424.25" y2="401.5" stroke="#2e2e2e" stroke-width="0.8"/>
<text x="420.65" y="403.5" font-size="5.3" text-anchor="end" font-weight="normal" fill="#000" stroke="#000" stroke-width="0.15">1.25</text>
<line x1="421.85" y1="412.75" x2="424.25" y2="412.75" stroke="#2e2e2e" stroke-width="0.8"/>
<text x="420.65" y="414.75" font-size="5.3" text-anchor="end" font-weight="normal" fill="#000" stroke="#000" stroke-width="0.15">1.00</text>
<line x1="421.85" y1="424" x2="424.25" y2="424" stroke="#2e2e2e" stroke-width="0.8"/>
<text x="420.65" y="426" font-size="5.3" text-anchor="end" font-weight="normal" fill="#000" stroke="#000" stroke-width="0.15">0.75</text>
<line x1="421.85" y1="435" x2="424.25" y2="435" stroke="#2e2e2e" stroke-width="0.8"/>
<text x="420.65" y="437" font-size="5.3" text-anchor="end" font-weight="normal" fill="#000" stroke="#000" stroke-width="0.15">0.50</text>
<line x1="432.15" y1="435" x2="432.15" y2="437.3" stroke="#2e2e2e" stroke-width="0.8"/>
<line x1="468.55" y1="435" x2="468.55" y2="437.3" stroke="#2e2e2e" stroke-width="0.8"/>
<line x1="505.05" y1="435" x2="505.05" y2="437.3" stroke="#2e2e2e" stroke-width="0.8"/>
<line x1="450.35" y1="435" x2="450.35" y2="436.7" stroke="#2e2e2e" stroke-width="0.7"/>
<line x1="486.75" y1="435" x2="486.75" y2="436.7" stroke="#2e2e2e" stroke-width="0.7"/>
<text x="432.15" y="443.31" font-size="5.3" text-anchor="middle" font-weight="normal" fill="#000" stroke="#000" stroke-width="0.1">10 min</text>
<text x="468.55" y="443.31" font-size="5.3" text-anchor="middle" font-weight="normal" fill="#000" stroke="#000" stroke-width="0.1">6h</text>
<text x="505.05" y="443.31" font-size="5.3" text-anchor="middle" font-weight="normal" fill="#000" stroke="#000" stroke-width="0.1">1d</text>
<line x1="430.5" y1="389.5" x2="430.5" y2="407.5" stroke="#62c26d" stroke-width="0.75"/>
<line x1="429.6" y1="389.5" x2="431.4" y2="389.5" stroke="#62c26d" stroke-width="0.75"/>
<line x1="429.6" y1="407.5" x2="431.4" y2="407.5" stroke="#62c26d" stroke-width="0.75"/>
<line x1="467" y1="397" x2="467" y2="407" stroke="#62c26d" stroke-width="0.75"/>
<line x1="466.1" y1="397" x2="467.9" y2="397" stroke="#62c26d" stroke-width="0.75"/>
<line x1="466.1" y1="407" x2="467.9" y2="407" stroke="#62c26d" stroke-width="0.75"/>
<line x1="503.75" y1="411.25" x2="503.75" y2="432.5" stroke="#62c26d" stroke-width="0.75"/>
<line x1="502.85" y1="411.25" x2="504.65" y2="411.25" stroke="#62c26d" stroke-width="0.75"/>
<line x1="502.85" y1="432.5" x2="504.65" y2="432.5" stroke="#62c26d" stroke-width="0.75"/>
<path d="M430.5 405.5 L467 403.25 L503.75 422.5" fill="none" stroke="#3ab54a" stroke-width="1.05"/>
<circle cx="430.5" cy="405.5" r="1.2" fill="#3ab54a"/>
<circle cx="467" cy="403.25" r="1.2" fill="#3ab54a"/>
<circle cx="503.75" cy="422.5" r="1.2" fill="#3ab54a"/>
<line x1="434" y1="398.25" x2="434" y2="429.5" stroke="#d4445f" stroke-width="0.75"/>
<line x1="433.1" y1="398.25" x2="434.9" y2="398.25" stroke="#d4445f" stroke-width="0.75"/>
<line x1="433.1" y1="429.5" x2="434.9" y2="429.5" stroke="#d4445f" stroke-width="0.75"/>
<line x1="470.5" y1="408" x2="470.5" y2="419.5" stroke="#d4445f" stroke-width="0.75"/>
<line x1="469.6" y1="408" x2="471.4" y2="408" stroke="#d4445f" stroke-width="0.75"/>
<line x1="469.6" y1="419.5" x2="471.4" y2="419.5" stroke="#d4445f" stroke-width="0.75"/>
<line x1="507" y1="378" x2="507" y2="415" stroke="#d4445f" stroke-width="0.75"/>
<line x1="506.1" y1="378" x2="507.9" y2="378" stroke="#d4445f" stroke-width="0.75"/>
<line x1="506.1" y1="415" x2="507.9" y2="415" stroke="#d4445f" stroke-width="0.75"/>
<path d="M434 412.5 L470.5 410.5 L507 401.75" fill="none" stroke="#c8102e" stroke-width="1.05"/>
<circle cx="434" cy="412.5" r="1.2" fill="#c8102e"/>
<circle cx="470.5" cy="410.5" r="1.2" fill="#c8102e"/>
<circle cx="507" cy="401.75" r="1.2" fill="#c8102e"/>
<text x="499.25" y="380.79" font-size="5.4" text-anchor="middle" font-weight="normal" fill="#000">NS</text>
<text x="428.75" y="451.83" font-size="7.8" text-anchor="middle" font-weight="bold" fill="#000" stroke="#000" stroke-width="0.25" textLength="40.55" lengthAdjust="spacingAndGlyphs">Stearic acid</text>
<text x="468.75" y="460.15" font-size="5" text-anchor="middle" font-weight="normal" fill="#000" stroke="#000" stroke-width="0.08" textLength="36.35" lengthAdjust="spacingAndGlyphs">After transfusion</text>
<line x1="424.25" y1="462.5" x2="424.25" y2="523.1" stroke="#2e2e2e" stroke-width="1.2"/>
<line x1="423.65" y1="522.5" x2="512.55" y2="522.5" stroke="#2e2e2e" stroke-width="1.2"/>
<line x1="421.85" y1="484.25" x2="424.25" y2="484.25" stroke="#2e2e2e" stroke-width="0.8"/>
<text x="420.65" y="486.25" font-size="5.3" text-anchor="end" font-weight="normal" fill="#000" stroke="#000" stroke-width="0.15">1.5</text>
<line x1="421.85" y1="505" x2="424.25" y2="505" stroke="#2e2e2e" stroke-width="0.8"/>
<text x="420.65" y="507" font-size="5.3" text-anchor="end" font-weight="normal" fill="#000" stroke="#000" stroke-width="0.15">1.0</text>
<line x1="432.15" y1="522.5" x2="432.15" y2="524.8" stroke="#2e2e2e" stroke-width="0.8"/>
<line x1="468.55" y1="522.5" x2="468.55" y2="524.8" stroke="#2e2e2e" stroke-width="0.8"/>
<line x1="505.05" y1="522.5" x2="505.05" y2="524.8" stroke="#2e2e2e" stroke-width="0.8"/>
<line x1="450.35" y1="522.5" x2="450.35" y2="524.2" stroke="#2e2e2e" stroke-width="0.7"/>
<line x1="486.75" y1="522.5" x2="486.75" y2="524.2" stroke="#2e2e2e" stroke-width="0.7"/>
<text x="432.15" y="531.31" font-size="5.3" text-anchor="middle" font-weight="normal" fill="#000" stroke="#000" stroke-width="0.1">10 min</text>
<text x="468.55" y="531.31" font-size="5.3" text-anchor="middle" font-weight="normal" fill="#000" stroke="#000" stroke-width="0.1">6h</text>
<text x="505.05" y="531.31" font-size="5.3" text-anchor="middle" font-weight="normal" fill="#000" stroke="#000" stroke-width="0.1">1d</text>
<line x1="430.5" y1="465.5" x2="430.5" y2="515.5" stroke="#62c26d" stroke-width="0.75"/>
<line x1="429.6" y1="465.5" x2="431.4" y2="465.5" stroke="#62c26d" stroke-width="0.75"/>
<line x1="429.6" y1="515.5" x2="431.4" y2="515.5" stroke="#62c26d" stroke-width="0.75"/>
<line x1="467" y1="493" x2="467" y2="505.5" stroke="#62c26d" stroke-width="0.75"/>
<line x1="466.1" y1="493" x2="467.9" y2="493" stroke="#62c26d" stroke-width="0.75"/>
<line x1="466.1" y1="505.5" x2="467.9" y2="505.5" stroke="#62c26d" stroke-width="0.75"/>
<line x1="503.75" y1="505" x2="503.75" y2="518" stroke="#62c26d" stroke-width="0.75"/>
<line x1="502.85" y1="505" x2="504.65" y2="505" stroke="#62c26d" stroke-width="0.75"/>
<line x1="502.85" y1="518" x2="504.65" y2="518" stroke="#62c26d" stroke-width="0.75"/>
<path d="M430.5 504.25 L467 502.5 L503.75 513.25" fill="none" stroke="#3ab54a" stroke-width="1.05"/>
<circle cx="430.5" cy="504.25" r="1.2" fill="#3ab54a"/>
<circle cx="467" cy="502.5" r="1.2" fill="#3ab54a"/>
<circle cx="503.75" cy="513.25" r="1.2" fill="#3ab54a"/>
<line x1="434" y1="496.25" x2="434" y2="508" stroke="#d4445f" stroke-width="0.75"/>
<line x1="433.1" y1="496.25" x2="434.9" y2="496.25" stroke="#d4445f" stroke-width="0.75"/>
<line x1="433.1" y1="508" x2="434.9" y2="508" stroke="#d4445f" stroke-width="0.75"/>
<line x1="470.5" y1="495.5" x2="470.5" y2="520" stroke="#d4445f" stroke-width="0.75"/>
<line x1="469.6" y1="495.5" x2="471.4" y2="495.5" stroke="#d4445f" stroke-width="0.75"/>
<line x1="469.6" y1="520" x2="471.4" y2="520" stroke="#d4445f" stroke-width="0.75"/>
<line x1="507" y1="468.75" x2="507" y2="505" stroke="#d4445f" stroke-width="0.75"/>
<line x1="506.1" y1="468.75" x2="507.9" y2="468.75" stroke="#d4445f" stroke-width="0.75"/>
<line x1="506.1" y1="505" x2="507.9" y2="505" stroke="#d4445f" stroke-width="0.75"/>
<path d="M434 503.75 L470.5 501.75 L507 487.5" fill="none" stroke="#c8102e" stroke-width="1.05"/>
<circle cx="434" cy="503.75" r="1.2" fill="#c8102e"/>
<circle cx="470.5" cy="501.75" r="1.2" fill="#c8102e"/>
<circle cx="507" cy="487.5" r="1.2" fill="#c8102e"/>
<text x="499.25" y="468.79" font-size="5.4" text-anchor="middle" font-weight="normal" fill="#000">NS</text>
<text x="428.75" y="542.43" font-size="7.8" text-anchor="middle" font-weight="bold" fill="#000" stroke="#000" stroke-width="0.25" textLength="34.05" lengthAdjust="spacingAndGlyphs">Oleic acid</text>
<text x="468.75" y="554.15" font-size="5" text-anchor="middle" font-weight="normal" fill="#000" stroke="#000" stroke-width="0.08" textLength="36.35" lengthAdjust="spacingAndGlyphs">After transfusion</text>
<line x1="424.25" y1="557" x2="424.25" y2="616.85" stroke="#2e2e2e" stroke-width="1.2"/>
<line x1="423.65" y1="616.25" x2="512.55" y2="616.25" stroke="#2e2e2e" stroke-width="1.2"/>
<line x1="421.85" y1="567.5" x2="424.25" y2="567.5" stroke="#2e2e2e" stroke-width="0.8"/>
<text x="420.65" y="569.5" font-size="5.3" text-anchor="end" font-weight="normal" fill="#000" stroke="#000" stroke-width="0.15">2.0</text>
<line x1="421.85" y1="581.75" x2="424.25" y2="581.75" stroke="#2e2e2e" stroke-width="0.8"/>
<text x="420.65" y="583.75" font-size="5.3" text-anchor="end" font-weight="normal" fill="#000" stroke="#000" stroke-width="0.15">1.5</text>
<line x1="421.85" y1="596.25" x2="424.25" y2="596.25" stroke="#2e2e2e" stroke-width="0.8"/>
<text x="420.65" y="598.25" font-size="5.3" text-anchor="end" font-weight="normal" fill="#000" stroke="#000" stroke-width="0.15">1.0</text>
<line x1="421.85" y1="610.5" x2="424.25" y2="610.5" stroke="#2e2e2e" stroke-width="0.8"/>
<text x="420.65" y="612.5" font-size="5.3" text-anchor="end" font-weight="normal" fill="#000" stroke="#000" stroke-width="0.15">0.5</text>
<line x1="432.15" y1="616.25" x2="432.15" y2="618.55" stroke="#2e2e2e" stroke-width="0.8"/>
<line x1="468.55" y1="616.25" x2="468.55" y2="618.55" stroke="#2e2e2e" stroke-width="0.8"/>
<line x1="505.05" y1="616.25" x2="505.05" y2="618.55" stroke="#2e2e2e" stroke-width="0.8"/>
<line x1="450.35" y1="616.25" x2="450.35" y2="617.95" stroke="#2e2e2e" stroke-width="0.7"/>
<line x1="486.75" y1="616.25" x2="486.75" y2="617.95" stroke="#2e2e2e" stroke-width="0.7"/>
<text x="432.15" y="625.06" font-size="5.3" text-anchor="middle" font-weight="normal" fill="#000" stroke="#000" stroke-width="0.1">10 min</text>
<text x="468.55" y="625.06" font-size="5.3" text-anchor="middle" font-weight="normal" fill="#000" stroke="#000" stroke-width="0.1">6h</text>
<text x="505.05" y="625.06" font-size="5.3" text-anchor="middle" font-weight="normal" fill="#000" stroke="#000" stroke-width="0.1">1d</text>
<line x1="430.5" y1="586.25" x2="430.5" y2="610.5" stroke="#62c26d" stroke-width="0.75"/>
<line x1="429.6" y1="586.25" x2="431.4" y2="586.25" stroke="#62c26d" stroke-width="0.75"/>
<line x1="429.6" y1="610.5" x2="431.4" y2="610.5" stroke="#62c26d" stroke-width="0.75"/>
<line x1="467" y1="582" x2="467" y2="603.75" stroke="#62c26d" stroke-width="0.75"/>
<line x1="466.1" y1="582" x2="467.9" y2="582" stroke="#62c26d" stroke-width="0.75"/>
<line x1="466.1" y1="603.75" x2="467.9" y2="603.75" stroke="#62c26d" stroke-width="0.75"/>
<line x1="503.75" y1="598.25" x2="503.75" y2="612" stroke="#62c26d" stroke-width="0.75"/>
<line x1="502.85" y1="598.25" x2="504.65" y2="598.25" stroke="#62c26d" stroke-width="0.75"/>
<line x1="502.85" y1="612" x2="504.65" y2="612" stroke="#62c26d" stroke-width="0.75"/>
<path d="M430.5 599.25 L467 593.25 L503.75 604.5" fill="none" stroke="#3ab54a" stroke-width="1.05"/>
<circle cx="430.5" cy="599.25" r="1.2" fill="#3ab54a"/>
<circle cx="467" cy="593.25" r="1.2" fill="#3ab54a"/>
<circle cx="503.75" cy="604.5" r="1.2" fill="#3ab54a"/>
<line x1="434" y1="578.25" x2="434" y2="610.5" stroke="#d4445f" stroke-width="0.75"/>
<line x1="433.1" y1="578.25" x2="434.9" y2="578.25" stroke="#d4445f" stroke-width="0.75"/>
<line x1="433.1" y1="610.5" x2="434.9" y2="610.5" stroke="#d4445f" stroke-width="0.75"/>
<line x1="470.5" y1="602" x2="470.5" y2="614.5" stroke="#d4445f" stroke-width="0.75"/>
<line x1="469.6" y1="602" x2="471.4" y2="602" stroke="#d4445f" stroke-width="0.75"/>
<line x1="469.6" y1="614.5" x2="471.4" y2="614.5" stroke="#d4445f" stroke-width="0.75"/>
<line x1="507" y1="559.5" x2="507" y2="583.75" stroke="#d4445f" stroke-width="0.75"/>
<line x1="506.1" y1="559.5" x2="507.9" y2="559.5" stroke="#d4445f" stroke-width="0.75"/>
<line x1="506.1" y1="583.75" x2="507.9" y2="583.75" stroke="#d4445f" stroke-width="0.75"/>
<path d="M434 589.5 L470.5 607 L507 577" fill="none" stroke="#c8102e" stroke-width="1.05"/>
<circle cx="434" cy="589.5" r="1.2" fill="#c8102e"/>
<circle cx="470.5" cy="607" r="1.2" fill="#c8102e"/>
<circle cx="507" cy="577" r="1.2" fill="#c8102e"/>
<text x="499.25" y="562.59" font-size="5.4" text-anchor="middle" font-weight="normal" fill="#000">NS</text>
<line x1="441.8" y1="636.75" x2="448.8" y2="636.75" stroke="#c8102e" stroke-width="1"/>
<circle cx="445.3" cy="636.75" r="1.1" fill="#c8102e"/>
<text x="458.1" y="638.61" font-size="5.3" text-anchor="middle" font-weight="normal" fill="#222" stroke="#222" stroke-width="0.06" textLength="15.77" lengthAdjust="spacingAndGlyphs">SAGM</text>
<line x1="473.1" y1="636.75" x2="480.1" y2="636.75" stroke="#3ab54a" stroke-width="1"/>
<circle cx="476.6" cy="636.75" r="1.1" fill="#3ab54a"/>
<text x="493.4" y="638.61" font-size="5.3" text-anchor="middle" font-weight="normal" fill="#222" stroke="#222" stroke-width="0.06" textLength="23.77" lengthAdjust="spacingAndGlyphs">PAGGGM</text>
<rect x="0" y="0" width="520" height="1.1" fill="#000"/>
<rect x="0" y="0" width="1.1" height="648" fill="#000"/>
<rect x="518.9" y="0" width="1.1" height="648" fill="#000"/>
<rect x="0" y="646.9" width="520" height="1.1" fill="#000"/>
</svg></body></html>
